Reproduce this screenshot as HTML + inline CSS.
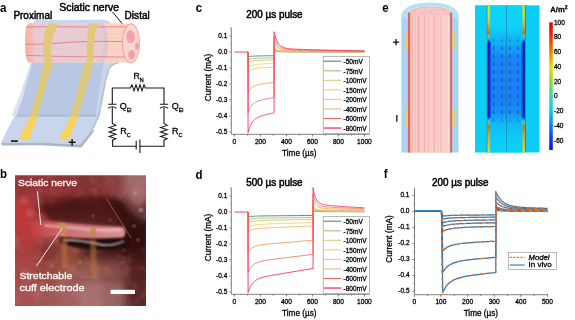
<!DOCTYPE html><html><head><meta charset="utf-8"><style>html,body{margin:0;padding:0;background:#fff;width:575px;height:320px;overflow:hidden}svg{display:block;opacity:0.999}</style></head><body>
<svg width="575" height="320" viewBox="0 0 575 320" font-family='"Liberation Sans", sans-serif'>
<style>text{stroke:#000;stroke-width:0.28px}</style>
<rect width="575" height="320" fill="#fff"/>
<defs><filter id="bl1" x="-30%" y="-30%" width="160%" height="160%"><feGaussianBlur stdDeviation="4"/></filter><filter id="bl2" x="-30%" y="-30%" width="160%" height="160%"><feGaussianBlur stdDeviation="2"/></filter><filter id="tex" x="0" y="0" width="100%" height="100%"><feTurbulence type="fractalNoise" baseFrequency="0.09" numOctaves="3" seed="7"/><feColorMatrix type="matrix" values="0 0 0 0 0.55  0 0 0 0 0.3  0 0 0 0 0.3  1.6 0 0 0 -0.75"/></filter><filter id="blg" x="-10%" y="-10%" width="120%" height="120%"><feGaussianBlur stdDeviation="4.5"/></filter><filter id="bl3" x="-30%" y="-30%" width="160%" height="160%"><feGaussianBlur stdDeviation="1"/></filter><clipPath id="photoclip"><rect x="15" y="175.3" width="131" height="130.7"/></clipPath><linearGradient id="cbar" x1="0" y1="0" x2="0" y2="1"><stop offset="0" stop-color="#e00000"/><stop offset="0.115" stop-color="#f03000"/><stop offset="0.23" stop-color="#f08000"/><stop offset="0.35" stop-color="#e8e000"/><stop offset="0.46" stop-color="#90d840"/><stop offset="0.575" stop-color="#40d8b0"/><stop offset="0.69" stop-color="#10c8f0"/><stop offset="0.805" stop-color="#1080f0"/><stop offset="0.92" stop-color="#1038e8"/><stop offset="1" stop-color="#1010d8"/></linearGradient></defs>
<text transform="translate(0,11.6) scale(0.86,1)" font-size="13.4" font-weight="bold" style="stroke-width:0">a</text>
<text transform="translate(0,178) scale(0.86,1)" font-size="13.4" font-weight="bold" style="stroke-width:0">b</text>
<text transform="translate(195.8,12.3) scale(0.86,1)" font-size="13.4" font-weight="bold" style="stroke-width:0">c</text>
<text transform="translate(195.6,178.7) scale(0.86,1)" font-size="13.4" font-weight="bold" style="stroke-width:0">d</text>
<text transform="translate(382.3,11.7) scale(0.86,1)" font-size="13.4" font-weight="bold" style="stroke-width:0">e</text>
<text transform="translate(383.8,178.4) scale(0.86,1)" font-size="13.4" font-weight="bold" style="stroke-width:0">f</text>
<text x="246.3" y="17.8" font-size="10.2" textLength="56.3" lengthAdjust="spacingAndGlyphs" style="stroke-width:0.5px">200 µs pulse</text>
<path d="M247.92,52L248.05,52L248.05,56.88L248.09,56.87L248.16,56.85L248.27,56.83L248.39,56.8L248.54,56.77L248.7,56.74L248.89,56.7L249.08,56.67L249.3,56.63L249.53,56.59L249.77,56.55L250.03,56.51L250.3,56.47L250.58,56.44L250.88,56.4L251.19,56.36L251.51,56.33L251.84,56.3L252.18,56.26L252.53,56.23L252.9,56.2L253.27,56.18L253.66,56.15L254.05,56.13L254.46,56.1L254.87,56.08L255.3,56.06L255.73,56.04L256.17,56.02L256.63,56L257.09,55.99L257.56,55.97L258.04,55.96L258.53,55.94L259.03,55.93L259.53,55.91L260.05,55.9L260.57,55.89L261.1,55.88L261.64,55.87L262.19,55.86L262.74,55.85L263.31,55.84L263.88,55.83L264.46,55.82L265.05,55.81L265.64,55.8L266.24,55.79L266.85,55.78L267.47,55.77L268.1,55.76L268.73,55.75L269.37,55.74L270.02,55.74L270.67,55.73L271.33,55.72L272,55.71L272.68,55.7L273.36,55.69L274.05,55.68L274.05,50.77L274.08,50.78L274.17,50.8L274.3,50.84L274.46,50.88L274.66,50.93L274.9,50.98L275.18,51.04L275.48,51.1L275.82,51.16L276.19,51.22L276.59,51.28L277.02,51.33L277.48,51.39L277.97,51.44L278.49,51.49L279.04,51.53L279.61,51.57L280.21,51.6L280.84,51.63L281.5,51.66L282.19,51.69L282.9,51.71L283.63,51.73L284.4,51.74L285.18,51.76L286,51.77L286.84,51.78L287.7,51.79L288.59,51.8L289.51,51.8L290.45,51.81L291.41,51.81L292.4,51.82L293.42,51.82L294.45,51.82L295.51,51.83L296.6,51.83L297.71,51.83L298.84,51.84L300,51.84L301.18,51.84L302.38,51.84L303.6,51.85L304.85,51.85L306.12,51.85L307.42,51.85L308.74,51.86L310.07,51.86L311.44,51.86L312.82,51.86L314.23,51.87L315.66,51.87L317.11,51.87L318.58,51.87L320.08,51.88L321.59,51.88L323.13,51.88L324.69,51.88L326.28,51.89L327.88,51.89L329.51,51.89L331.15,51.89L332.82,51.9L334.51,51.9L336.22,51.9L337.96,51.9L339.71,51.9L341.48,51.91L343.28,51.91L345.1,51.91L346.93,51.91L348.79,51.91L350.67,51.92L352.57,51.92L354.49,51.92L356.43,51.92L358.39,51.92L360.37,51.93L362.38,51.93L364.4,51.93" fill="none" stroke="#3f7f55" stroke-width="0.9" stroke-linejoin="round"/>
<path d="M247.92,52L248.05,52L248.05,59.64L248.09,59.63L248.16,59.6L248.27,59.56L248.39,59.52L248.54,59.47L248.7,59.42L248.89,59.36L249.08,59.3L249.3,59.24L249.53,59.18L249.77,59.12L250.03,59.06L250.3,59L250.58,58.94L250.88,58.89L251.19,58.83L251.51,58.78L251.84,58.72L252.18,58.67L252.53,58.63L252.9,58.58L253.27,58.54L253.66,58.5L254.05,58.46L254.46,58.42L254.87,58.39L255.3,58.35L255.73,58.32L256.17,58.29L256.63,58.27L257.09,58.24L257.56,58.21L258.04,58.19L258.53,58.17L259.03,58.15L259.53,58.13L260.05,58.11L260.57,58.09L261.1,58.07L261.64,58.05L262.19,58.04L262.74,58.02L263.31,58.01L263.88,57.99L264.46,57.98L265.05,57.96L265.64,57.95L266.24,57.93L266.85,57.92L267.47,57.9L268.1,57.89L268.73,57.88L269.37,57.86L270.02,57.85L270.67,57.83L271.33,57.82L272,57.8L272.68,57.79L273.36,57.78L274.05,57.76L274.05,50.07L274.08,50.09L274.17,50.12L274.3,50.18L274.46,50.24L274.66,50.32L274.9,50.4L275.18,50.49L275.48,50.59L275.82,50.68L276.19,50.78L276.59,50.87L277.02,50.96L277.48,51.04L277.97,51.12L278.49,51.2L279.04,51.26L279.61,51.32L280.21,51.38L280.84,51.43L281.5,51.47L282.19,51.51L282.9,51.54L283.63,51.57L284.4,51.6L285.18,51.62L286,51.64L286.84,51.65L287.7,51.67L288.59,51.68L289.51,51.69L290.45,51.7L291.41,51.71L292.4,51.71L293.42,51.72L294.45,51.73L295.51,51.73L296.6,51.74L297.71,51.74L298.84,51.74L300,51.75L301.18,51.75L302.38,51.76L303.6,51.76L304.85,51.76L306.12,51.77L307.42,51.77L308.74,51.78L310.07,51.78L311.44,51.78L312.82,51.79L314.23,51.79L315.66,51.8L317.11,51.8L318.58,51.8L320.08,51.81L321.59,51.81L323.13,51.81L324.69,51.82L326.28,51.82L327.88,51.83L329.51,51.83L331.15,51.83L332.82,51.84L334.51,51.84L336.22,51.84L337.96,51.85L339.71,51.85L341.48,51.85L343.28,51.86L345.1,51.86L346.93,51.86L348.79,51.87L350.67,51.87L352.57,51.87L354.49,51.88L356.43,51.88L358.39,51.88L360.37,51.88L362.38,51.89L364.4,51.89" fill="none" stroke="#9cb888" stroke-width="0.9" stroke-linejoin="round"/>
<path d="M247.92,52L248.05,52L248.05,62.4L248.09,62.38L248.16,62.34L248.27,62.29L248.39,62.23L248.54,62.17L248.7,62.1L248.89,62.02L249.08,61.94L249.3,61.86L249.53,61.78L249.77,61.69L250.03,61.61L250.3,61.53L250.58,61.45L250.88,61.37L251.19,61.3L251.51,61.22L251.84,61.15L252.18,61.08L252.53,61.02L252.9,60.96L253.27,60.9L253.66,60.84L254.05,60.79L254.46,60.74L254.87,60.69L255.3,60.65L255.73,60.61L256.17,60.57L256.63,60.53L257.09,60.49L257.56,60.46L258.04,60.43L258.53,60.4L259.03,60.37L259.53,60.34L260.05,60.31L260.57,60.29L261.1,60.26L261.64,60.24L262.19,60.22L262.74,60.2L263.31,60.18L263.88,60.15L264.46,60.13L265.05,60.11L265.64,60.09L266.24,60.07L266.85,60.05L267.47,60.04L268.1,60.02L268.73,60L269.37,59.98L270.02,59.96L270.67,59.94L271.33,59.92L272,59.9L272.68,59.88L273.36,59.86L274.05,59.84L274.05,49.38L274.08,49.4L274.17,49.45L274.3,49.52L274.46,49.61L274.66,49.71L274.9,49.83L275.18,49.95L275.48,50.08L275.82,50.21L276.19,50.33L276.59,50.46L277.02,50.58L277.48,50.7L277.97,50.8L278.49,50.9L279.04,51L279.61,51.08L280.21,51.16L280.84,51.22L281.5,51.28L282.19,51.33L282.9,51.38L283.63,51.42L284.4,51.45L285.18,51.48L286,51.51L286.84,51.53L287.7,51.55L288.59,51.56L289.51,51.58L290.45,51.59L291.41,51.6L292.4,51.61L293.42,51.62L294.45,51.63L295.51,51.63L296.6,51.64L297.71,51.65L298.84,51.65L300,51.66L301.18,51.66L302.38,51.67L303.6,51.67L304.85,51.68L306.12,51.69L307.42,51.69L308.74,51.7L310.07,51.7L311.44,51.71L312.82,51.71L314.23,51.72L315.66,51.72L317.11,51.73L318.58,51.73L320.08,51.74L321.59,51.74L323.13,51.75L324.69,51.75L326.28,51.76L327.88,51.76L329.51,51.77L331.15,51.77L332.82,51.78L334.51,51.78L336.22,51.79L337.96,51.79L339.71,51.8L341.48,51.8L343.28,51.8L345.1,51.81L346.93,51.81L348.79,51.82L350.67,51.82L352.57,51.83L354.49,51.83L356.43,51.83L358.39,51.84L360.37,51.84L362.38,51.85L364.4,51.85" fill="none" stroke="#c9c662" stroke-width="0.9" stroke-linejoin="round"/>
<path d="M247.92,52L248.05,52L248.05,67.07L248.09,67.04L248.16,66.99L248.27,66.92L248.39,66.83L248.54,66.73L248.7,66.63L248.89,66.52L249.08,66.41L249.3,66.29L249.53,66.17L249.77,66.05L250.03,65.93L250.3,65.81L250.58,65.69L250.88,65.58L251.19,65.47L251.51,65.36L251.84,65.26L252.18,65.16L252.53,65.07L252.9,64.98L253.27,64.89L253.66,64.81L254.05,64.74L254.46,64.66L254.87,64.59L255.3,64.53L255.73,64.47L256.17,64.41L256.63,64.36L257.09,64.3L257.56,64.26L258.04,64.21L258.53,64.17L259.03,64.12L259.53,64.08L260.05,64.05L260.57,64.01L261.1,63.97L261.64,63.94L262.19,63.91L262.74,63.88L263.31,63.85L263.88,63.82L264.46,63.79L265.05,63.76L265.64,63.73L266.24,63.7L266.85,63.67L267.47,63.64L268.1,63.62L268.73,63.59L269.37,63.56L270.02,63.53L270.67,63.5L271.33,63.48L272,63.45L272.68,63.42L273.36,63.39L274.05,63.36L274.05,48.2L274.08,48.23L274.17,48.3L274.3,48.4L274.46,48.53L274.66,48.68L274.9,48.85L275.18,49.03L275.48,49.21L275.82,49.4L276.19,49.59L276.59,49.77L277.02,49.94L277.48,50.11L277.97,50.27L278.49,50.41L279.04,50.55L279.61,50.67L280.21,50.78L280.84,50.87L281.5,50.96L282.19,51.03L282.9,51.1L283.63,51.16L284.4,51.21L285.18,51.25L286,51.29L286.84,51.32L287.7,51.34L288.59,51.37L289.51,51.39L290.45,51.41L291.41,51.42L292.4,51.43L293.42,51.45L294.45,51.46L295.51,51.47L296.6,51.48L297.71,51.49L298.84,51.5L300,51.5L301.18,51.51L302.38,51.52L303.6,51.53L304.85,51.54L306.12,51.54L307.42,51.55L308.74,51.56L310.07,51.57L311.44,51.57L312.82,51.58L314.23,51.59L315.66,51.6L317.11,51.6L318.58,51.61L320.08,51.62L321.59,51.63L323.13,51.63L324.69,51.64L326.28,51.65L327.88,51.66L329.51,51.66L331.15,51.67L332.82,51.68L334.51,51.68L336.22,51.69L337.96,51.7L339.71,51.7L341.48,51.71L343.28,51.72L345.1,51.72L346.93,51.73L348.79,51.74L350.67,51.74L352.57,51.75L354.49,51.75L356.43,51.76L358.39,51.77L360.37,51.77L362.38,51.78L364.4,51.78" fill="none" stroke="#f2cf6a" stroke-width="0.9" stroke-linejoin="round"/>
<path d="M247.92,52L248.05,52L248.05,71.95L248.09,71.91L248.16,71.84L248.27,71.75L248.39,71.63L248.54,71.51L248.7,71.37L248.89,71.22L249.08,71.07L249.3,70.92L249.53,70.76L249.77,70.6L250.03,70.44L250.3,70.28L250.58,70.13L250.88,69.98L251.19,69.83L251.51,69.69L251.84,69.56L252.18,69.43L252.53,69.3L252.9,69.18L253.27,69.07L253.66,68.96L254.05,68.86L254.46,68.77L254.87,68.67L255.3,68.59L255.73,68.51L256.17,68.43L256.63,68.36L257.09,68.29L257.56,68.23L258.04,68.16L258.53,68.11L259.03,68.05L259.53,68L260.05,67.95L260.57,67.9L261.1,67.85L261.64,67.81L262.19,67.77L262.74,67.72L263.31,67.68L263.88,67.64L264.46,67.6L265.05,67.56L265.64,67.53L266.24,67.49L266.85,67.45L267.47,67.41L268.1,67.38L268.73,67.34L269.37,67.3L270.02,67.27L270.67,67.23L271.33,67.19L272,67.16L272.68,67.12L273.36,67.08L274.05,67.04L274.05,46.97L274.08,47.01L274.17,47.1L274.3,47.24L274.46,47.41L274.66,47.61L274.9,47.83L275.18,48.07L275.48,48.31L275.82,48.56L276.19,48.8L276.59,49.05L277.02,49.28L277.48,49.5L277.97,49.71L278.49,49.9L279.04,50.07L279.61,50.23L280.21,50.38L280.84,50.51L281.5,50.62L282.19,50.72L282.9,50.81L283.63,50.88L284.4,50.95L285.18,51.01L286,51.06L286.84,51.1L287.7,51.13L288.59,51.16L289.51,51.19L290.45,51.21L291.41,51.23L292.4,51.25L293.42,51.27L294.45,51.28L295.51,51.3L296.6,51.31L297.71,51.32L298.84,51.33L300,51.34L301.18,51.35L302.38,51.36L303.6,51.38L304.85,51.39L306.12,51.4L307.42,51.41L308.74,51.42L310.07,51.43L311.44,51.44L312.82,51.45L314.23,51.46L315.66,51.47L317.11,51.48L318.58,51.49L320.08,51.5L321.59,51.51L323.13,51.51L324.69,51.52L326.28,51.53L327.88,51.54L329.51,51.55L331.15,51.56L332.82,51.57L334.51,51.58L336.22,51.59L337.96,51.6L339.71,51.61L341.48,51.62L343.28,51.63L345.1,51.63L346.93,51.64L348.79,51.65L350.67,51.66L352.57,51.67L354.49,51.68L356.43,51.68L358.39,51.69L360.37,51.7L362.38,51.71L364.4,51.71" fill="none" stroke="#f3b852" stroke-width="0.9" stroke-linejoin="round"/>
<path d="M247.92,52L248.05,52L248.05,92.32L248.09,92.25L248.16,92.11L248.27,91.91L248.39,91.69L248.54,91.43L248.7,91.15L248.89,90.86L249.08,90.55L249.3,90.23L249.53,89.91L249.77,89.59L250.03,89.27L250.3,88.96L250.58,88.65L250.88,88.34L251.19,88.05L251.51,87.76L251.84,87.49L252.18,87.22L252.53,86.97L252.9,86.73L253.27,86.5L253.66,86.29L254.05,86.08L254.46,85.89L254.87,85.7L255.3,85.53L255.73,85.37L256.17,85.21L256.63,85.07L257.09,84.93L257.56,84.8L258.04,84.67L258.53,84.56L259.03,84.44L259.53,84.34L260.05,84.24L260.57,84.14L261.1,84.05L261.64,83.95L262.19,83.87L262.74,83.78L263.31,83.7L263.88,83.62L264.46,83.54L265.05,83.46L265.64,83.38L266.24,83.31L266.85,83.23L267.47,83.16L268.1,83.08L268.73,83.01L269.37,82.93L270.02,82.86L270.67,82.79L271.33,82.71L272,82.64L272.68,82.56L273.36,82.49L274.05,82.41L274.05,41.84L274.08,41.92L274.17,42.1L274.3,42.38L274.46,42.72L274.66,43.13L274.9,43.57L275.18,44.05L275.48,44.54L275.82,45.04L276.19,45.54L276.59,46.03L277.02,46.5L277.48,46.94L277.97,47.36L278.49,47.75L279.04,48.11L279.61,48.43L280.21,48.72L280.84,48.98L281.5,49.21L282.19,49.42L282.9,49.59L283.63,49.75L284.4,49.88L285.18,49.99L286,50.09L286.84,50.17L287.7,50.25L288.59,50.31L289.51,50.36L290.45,50.41L291.41,50.45L292.4,50.49L293.42,50.52L294.45,50.55L295.51,50.58L296.6,50.6L297.71,50.63L298.84,50.65L300,50.67L301.18,50.69L302.38,50.72L303.6,50.74L304.85,50.76L306.12,50.78L307.42,50.8L308.74,50.82L310.07,50.84L311.44,50.86L312.82,50.88L314.23,50.9L315.66,50.92L317.11,50.94L318.58,50.96L320.08,50.98L321.59,51L323.13,51.02L324.69,51.04L326.28,51.06L327.88,51.08L329.51,51.1L331.15,51.12L332.82,51.13L334.51,51.15L336.22,51.17L337.96,51.19L339.71,51.21L341.48,51.22L343.28,51.24L345.1,51.26L346.93,51.28L348.79,51.29L350.67,51.31L352.57,51.33L354.49,51.34L356.43,51.36L358.39,51.38L360.37,51.39L362.38,51.41L364.4,51.42" fill="none" stroke="#f49848" stroke-width="0.9" stroke-linejoin="round"/>
<path d="M247.92,52L248.05,52L248.05,112.48L248.09,112.37L248.16,112.16L248.27,111.87L248.39,111.53L248.54,111.15L248.7,110.73L248.89,110.28L249.08,109.82L249.3,109.35L249.53,108.87L249.77,108.39L250.03,107.91L250.3,107.43L250.58,106.97L250.88,106.51L251.19,106.07L251.51,105.64L251.84,105.23L252.18,104.84L252.53,104.46L252.9,104.1L253.27,103.76L253.66,103.43L254.05,103.12L254.46,102.83L254.87,102.56L255.3,102.3L255.73,102.05L256.17,101.82L256.63,101.6L257.09,101.39L257.56,101.2L258.04,101.01L258.53,100.83L259.03,100.67L259.53,100.51L260.05,100.35L260.57,100.21L261.1,100.07L261.64,99.93L262.19,99.8L262.74,99.67L263.31,99.55L263.88,99.43L264.46,99.31L265.05,99.19L265.64,99.08L266.24,98.96L266.85,98.85L267.47,98.74L268.1,98.62L268.73,98.51L269.37,98.4L270.02,98.29L270.67,98.18L271.33,98.07L272,97.95L272.68,97.84L273.36,97.73L274.05,97.61L274.05,36.76L274.08,36.87L274.17,37.16L274.3,37.57L274.46,38.09L274.66,38.69L274.9,39.36L275.18,40.07L275.48,40.81L275.82,41.56L276.19,42.31L276.59,43.04L277.02,43.75L277.48,44.42L277.97,45.04L278.49,45.63L279.04,46.16L279.61,46.65L280.21,47.09L280.84,47.48L281.5,47.82L282.19,48.12L282.9,48.39L283.63,48.62L284.4,48.82L285.18,48.99L286,49.14L286.84,49.26L287.7,49.37L288.59,49.46L289.51,49.54L290.45,49.61L291.41,49.68L292.4,49.73L293.42,49.78L294.45,49.82L295.51,49.87L296.6,49.9L297.71,49.94L298.84,49.98L300,50.01L301.18,50.04L302.38,50.07L303.6,50.11L304.85,50.14L306.12,50.17L307.42,50.2L308.74,50.23L310.07,50.26L311.44,50.29L312.82,50.32L314.23,50.35L315.66,50.38L317.11,50.41L318.58,50.44L320.08,50.47L321.59,50.5L323.13,50.53L324.69,50.56L326.28,50.59L327.88,50.62L329.51,50.64L331.15,50.67L332.82,50.7L334.51,50.73L336.22,50.76L337.96,50.78L339.71,50.81L341.48,50.84L343.28,50.86L345.1,50.89L346.93,50.92L348.79,50.94L350.67,50.97L352.57,50.99L354.49,51.02L356.43,51.04L358.39,51.06L360.37,51.09L362.38,51.11L364.4,51.13" fill="none" stroke="#f27468" stroke-width="0.9" stroke-linejoin="round"/>
<path d="M234.4,52L248.05,52L248.05,132.64L248.09,132.5L248.16,132.21L248.27,131.83L248.39,131.37L248.54,130.86L248.7,130.3L248.89,129.71L249.08,129.1L249.3,128.47L249.53,127.83L249.77,127.18L250.03,126.54L250.3,125.91L250.58,125.29L250.88,124.68L251.19,124.09L251.51,123.52L251.84,122.98L252.18,122.45L252.53,121.95L252.9,121.47L253.27,121.01L253.66,120.57L254.05,120.16L254.46,119.77L254.87,119.41L255.3,119.06L255.73,118.73L256.17,118.42L256.63,118.13L257.09,117.86L257.56,117.59L258.04,117.35L258.53,117.11L259.03,116.89L259.53,116.68L260.05,116.47L260.57,116.28L261.1,116.09L261.64,115.91L262.19,115.73L262.74,115.56L263.31,115.4L263.88,115.24L264.46,115.08L265.05,114.92L265.64,114.77L266.24,114.62L266.85,114.46L267.47,114.31L268.1,114.17L268.73,114.02L269.37,113.87L270.02,113.72L270.67,113.57L271.33,113.42L272,113.27L272.68,113.12L273.36,112.97L274.05,112.82L274.05,31.68L274.08,31.83L274.17,32.21L274.3,32.76L274.46,33.45L274.66,34.25L274.9,35.14L275.18,36.09L275.48,37.08L275.82,38.08L276.19,39.08L276.59,40.06L277.02,40.99L277.48,41.89L277.97,42.73L278.49,43.5L279.04,44.22L279.61,44.86L280.21,45.45L280.84,45.97L281.5,46.43L282.19,46.83L282.9,47.19L283.63,47.49L284.4,47.76L285.18,47.99L286,48.18L286.84,48.35L287.7,48.49L288.59,48.62L289.51,48.73L290.45,48.82L291.41,48.9L292.4,48.97L293.42,49.04L294.45,49.1L295.51,49.15L296.6,49.21L297.71,49.25L298.84,49.3L300,49.35L301.18,49.39L302.38,49.43L303.6,49.47L304.85,49.52L306.12,49.56L307.42,49.6L308.74,49.64L310.07,49.68L311.44,49.72L312.82,49.76L314.23,49.8L315.66,49.84L317.11,49.88L318.58,49.92L320.08,49.96L321.59,50L323.13,50.04L324.69,50.08L326.28,50.12L327.88,50.15L329.51,50.19L331.15,50.23L332.82,50.27L334.51,50.3L336.22,50.34L337.96,50.38L339.71,50.41L341.48,50.45L343.28,50.49L345.1,50.52L346.93,50.55L348.79,50.59L350.67,50.62L352.57,50.66L354.49,50.69L356.43,50.72L358.39,50.75L360.37,50.78L362.38,50.81L364.4,50.84" fill="none" stroke="#f2305a" stroke-width="0.9" stroke-linejoin="round"/>
<line x1="231.3" y1="27.8" x2="231.3" y2="134.3" stroke="#6a6a6a" stroke-width="0.9"/>
<line x1="229.1" y1="36" x2="231.3" y2="36" stroke="#8a8a8a" stroke-width="0.9"/>
<text x="227.3" y="38" font-size="6.5" text-anchor="end" stroke="#000" stroke-width="0.25">0.1</text>
<line x1="229.1" y1="52" x2="231.3" y2="52" stroke="#8a8a8a" stroke-width="0.9"/>
<text x="227.3" y="54" font-size="6.5" text-anchor="end" stroke="#000" stroke-width="0.25">0.0</text>
<line x1="229.1" y1="68" x2="231.3" y2="68" stroke="#8a8a8a" stroke-width="0.9"/>
<text x="227.3" y="70" font-size="6.5" text-anchor="end" stroke="#000" stroke-width="0.25">-0.1</text>
<line x1="229.1" y1="84" x2="231.3" y2="84" stroke="#8a8a8a" stroke-width="0.9"/>
<text x="227.3" y="86" font-size="6.5" text-anchor="end" stroke="#000" stroke-width="0.25">-0.2</text>
<line x1="229.1" y1="100" x2="231.3" y2="100" stroke="#8a8a8a" stroke-width="0.9"/>
<text x="227.3" y="102" font-size="6.5" text-anchor="end" stroke="#000" stroke-width="0.25">-0.3</text>
<line x1="229.1" y1="116" x2="231.3" y2="116" stroke="#8a8a8a" stroke-width="0.9"/>
<text x="227.3" y="118" font-size="6.5" text-anchor="end" stroke="#000" stroke-width="0.25">-0.4</text>
<line x1="229.1" y1="132" x2="231.3" y2="132" stroke="#8a8a8a" stroke-width="0.9"/>
<text x="227.3" y="134" font-size="6.5" text-anchor="end" stroke="#000" stroke-width="0.25">-0.5</text>
<line x1="230" y1="28" x2="231.3" y2="28" stroke="#8a8a8a" stroke-width="0.7"/>
<line x1="230" y1="44" x2="231.3" y2="44" stroke="#8a8a8a" stroke-width="0.7"/>
<line x1="230" y1="60" x2="231.3" y2="60" stroke="#8a8a8a" stroke-width="0.7"/>
<line x1="230" y1="76" x2="231.3" y2="76" stroke="#8a8a8a" stroke-width="0.7"/>
<line x1="230" y1="92" x2="231.3" y2="92" stroke="#8a8a8a" stroke-width="0.7"/>
<line x1="230" y1="108" x2="231.3" y2="108" stroke="#8a8a8a" stroke-width="0.7"/>
<line x1="230" y1="124" x2="231.3" y2="124" stroke="#8a8a8a" stroke-width="0.7"/>
<line x1="231.3" y1="134.3" x2="369.6" y2="134.3" stroke="#9a9a9a" stroke-width="1.2"/>
<line x1="234.4" y1="134.3" x2="234.4" y2="136.5" stroke="#555" stroke-width="0.8"/>
<text x="234.4" y="143.8" font-size="6.6" text-anchor="middle" stroke="#000" stroke-width="0.25">0</text>
<line x1="260.4" y1="134.3" x2="260.4" y2="136.5" stroke="#555" stroke-width="0.8"/>
<text x="260.4" y="143.8" font-size="6.6" text-anchor="middle" stroke="#000" stroke-width="0.25">200</text>
<line x1="286.4" y1="134.3" x2="286.4" y2="136.5" stroke="#555" stroke-width="0.8"/>
<text x="286.4" y="143.8" font-size="6.6" text-anchor="middle" stroke="#000" stroke-width="0.25">400</text>
<line x1="312.4" y1="134.3" x2="312.4" y2="136.5" stroke="#555" stroke-width="0.8"/>
<text x="312.4" y="143.8" font-size="6.6" text-anchor="middle" stroke="#000" stroke-width="0.25">600</text>
<line x1="338.4" y1="134.3" x2="338.4" y2="136.5" stroke="#555" stroke-width="0.8"/>
<text x="338.4" y="143.8" font-size="6.6" text-anchor="middle" stroke="#000" stroke-width="0.25">800</text>
<line x1="364.4" y1="134.3" x2="364.4" y2="136.5" stroke="#555" stroke-width="0.8"/>
<text x="364.4" y="143.8" font-size="6.6" text-anchor="middle" stroke="#000" stroke-width="0.25">1000</text>
<line x1="247.4" y1="134.3" x2="247.4" y2="135.7" stroke="#555" stroke-width="0.7"/>
<line x1="273.4" y1="134.3" x2="273.4" y2="135.7" stroke="#555" stroke-width="0.7"/>
<line x1="299.4" y1="134.3" x2="299.4" y2="135.7" stroke="#555" stroke-width="0.7"/>
<line x1="325.4" y1="134.3" x2="325.4" y2="135.7" stroke="#555" stroke-width="0.7"/>
<line x1="351.4" y1="134.3" x2="351.4" y2="135.7" stroke="#555" stroke-width="0.7"/>
<rect x="323.2" y="56.3" width="46.4" height="77.3" fill="#fff" stroke="#8a8a8a" stroke-width="0.6"/>
<line x1="323.6" y1="61.2" x2="341.4" y2="61.2" stroke="#3f7f55" stroke-width="1.0"/>
<text x="343.5" y="64" font-size="6.6">-50mV</text>
<line x1="323.6" y1="70.75" x2="341.4" y2="70.75" stroke="#b9cca2" stroke-width="1.5"/>
<text x="343.5" y="73.55" font-size="6.6">-75mV</text>
<line x1="323.6" y1="80.3" x2="341.4" y2="80.3" stroke="#cfcf78" stroke-width="1.0"/>
<text x="343.5" y="83.1" font-size="6.6">-100mV</text>
<line x1="323.6" y1="89.85" x2="341.4" y2="89.85" stroke="#f6dc98" stroke-width="1.5"/>
<text x="343.5" y="92.65" font-size="6.6">-150mV</text>
<line x1="323.6" y1="99.4" x2="341.4" y2="99.4" stroke="#f5bf62" stroke-width="1.0"/>
<text x="343.5" y="102.2" font-size="6.6">-200mV</text>
<line x1="323.6" y1="108.95" x2="341.4" y2="108.95" stroke="#f7c3a6" stroke-width="1.5"/>
<text x="343.5" y="111.75" font-size="6.6">-400mV</text>
<line x1="323.6" y1="118.5" x2="341.4" y2="118.5" stroke="#f26a5e" stroke-width="1.0"/>
<text x="343.5" y="121.3" font-size="6.6">-600mV</text>
<line x1="323.6" y1="128.05" x2="341.4" y2="128.05" stroke="#f4507a" stroke-width="1.5"/>
<text x="343.5" y="130.85" font-size="6.6">-800mV</text>
<text x="299.3" y="155.9" font-size="8.2" text-anchor="middle">Time (µs)</text>
<text transform="translate(210.7,77.5) rotate(-90)" font-size="8.2" text-anchor="middle">Current (mA)</text>
<text x="246.3" y="185.6" font-size="10.2" textLength="56.3" lengthAdjust="spacingAndGlyphs" style="stroke-width:0.5px">500 µs pulse</text>
<path d="M247.92,212L248.05,212L248.05,216.88L248.14,216.86L248.33,216.83L248.59,216.78L248.9,216.73L249.27,216.68L249.68,216.62L250.14,216.56L250.64,216.5L251.17,216.45L251.75,216.39L252.36,216.34L253,216.29L253.68,216.25L254.38,216.21L255.12,216.17L255.89,216.13L256.69,216.1L257.52,216.07L258.37,216.05L259.26,216.02L260.17,216L261.1,215.98L262.07,215.96L263.05,215.95L264.07,215.93L265.1,215.92L266.17,215.9L267.25,215.89L268.36,215.87L269.49,215.86L270.65,215.85L271.82,215.83L273.02,215.82L274.25,215.81L275.49,215.8L276.75,215.78L278.04,215.77L279.35,215.76L280.68,215.74L282.03,215.73L283.39,215.71L284.78,215.7L286.19,215.69L287.62,215.67L289.07,215.66L290.54,215.64L292.03,215.63L293.53,215.61L295.06,215.6L296.6,215.58L298.17,215.57L299.75,215.55L301.35,215.54L302.97,215.52L304.6,215.5L306.26,215.49L307.93,215.47L309.62,215.45L311.33,215.44L313.05,215.42L313.05,210.53L313.07,210.53L313.12,210.55L313.19,210.58L313.28,210.61L313.4,210.64L313.53,210.69L313.69,210.73L313.86,210.78L314.06,210.83L314.27,210.88L314.49,210.93L314.74,210.98L315,211.03L315.28,211.08L315.57,211.12L315.88,211.17L316.21,211.21L316.55,211.25L316.91,211.28L317.28,211.32L317.67,211.35L318.08,211.38L318.5,211.4L318.93,211.42L319.38,211.45L319.84,211.46L320.32,211.48L320.81,211.5L321.32,211.51L321.84,211.52L322.37,211.53L322.92,211.54L323.48,211.55L324.06,211.56L324.65,211.57L325.25,211.57L325.87,211.58L326.5,211.58L327.14,211.59L327.8,211.59L328.47,211.6L329.15,211.6L329.85,211.61L330.56,211.61L331.28,211.62L332.01,211.62L332.76,211.62L333.52,211.63L334.3,211.63L335.09,211.63L335.89,211.64L336.7,211.64L337.52,211.65L338.36,211.65L339.21,211.65L340.07,211.66L340.95,211.66L341.83,211.67L342.73,211.67L343.65,211.67L344.57,211.68L345.51,211.68L346.45,211.68L347.41,211.69L348.39,211.69L349.37,211.7L350.37,211.7L351.38,211.7L352.4,211.71L353.43,211.71L354.47,211.72L355.53,211.72L356.6,211.72L357.68,211.73L358.77,211.73L359.87,211.73L360.99,211.74L362.11,211.74L363.25,211.75L364.4,211.75" fill="none" stroke="#3f7f55" stroke-width="0.9" stroke-linejoin="round"/>
<path d="M247.92,212L248.05,212L248.05,219.64L248.14,219.61L248.33,219.56L248.59,219.49L248.9,219.41L249.27,219.32L249.68,219.23L250.14,219.14L250.64,219.05L251.17,218.96L251.75,218.87L252.36,218.79L253,218.72L253.68,218.65L254.38,218.58L255.12,218.52L255.89,218.47L256.69,218.42L257.52,218.38L258.37,218.34L259.26,218.3L260.17,218.27L261.1,218.23L262.07,218.21L263.05,218.18L264.07,218.15L265.1,218.13L266.17,218.11L267.25,218.09L268.36,218.06L269.49,218.04L270.65,218.02L271.82,218L273.02,217.98L274.25,217.96L275.49,217.94L276.75,217.92L278.04,217.9L279.35,217.88L280.68,217.86L282.03,217.84L283.39,217.81L284.78,217.79L286.19,217.77L287.62,217.75L289.07,217.73L290.54,217.7L292.03,217.68L293.53,217.66L295.06,217.63L296.6,217.61L298.17,217.58L299.75,217.56L301.35,217.53L302.97,217.51L304.6,217.48L306.26,217.46L307.93,217.43L309.62,217.4L311.33,217.38L313.05,217.35L313.05,209.7L313.07,209.71L313.12,209.73L313.19,209.77L313.28,209.82L313.4,209.88L313.53,209.94L313.69,210.01L313.86,210.09L314.06,210.16L314.27,210.24L314.49,210.32L314.74,210.4L315,210.48L315.28,210.55L315.57,210.63L315.88,210.7L316.21,210.76L316.55,210.82L316.91,210.88L317.28,210.93L317.67,210.98L318.08,211.02L318.5,211.06L318.93,211.1L319.38,211.13L319.84,211.16L320.32,211.19L320.81,211.21L321.32,211.23L321.84,211.25L322.37,211.27L322.92,211.28L323.48,211.3L324.06,211.31L324.65,211.32L325.25,211.33L325.87,211.34L326.5,211.35L327.14,211.36L327.8,211.36L328.47,211.37L329.15,211.38L329.85,211.38L330.56,211.39L331.28,211.4L332.01,211.4L332.76,211.41L333.52,211.42L334.3,211.42L335.09,211.43L335.89,211.43L336.7,211.44L337.52,211.45L338.36,211.45L339.21,211.46L340.07,211.46L340.95,211.47L341.83,211.48L342.73,211.48L343.65,211.49L344.57,211.49L345.51,211.5L346.45,211.51L347.41,211.51L348.39,211.52L349.37,211.52L350.37,211.53L351.38,211.54L352.4,211.54L353.43,211.55L354.47,211.55L355.53,211.56L356.6,211.57L357.68,211.57L358.77,211.58L359.87,211.58L360.99,211.59L362.11,211.6L363.25,211.6L364.4,211.61" fill="none" stroke="#9cb888" stroke-width="0.9" stroke-linejoin="round"/>
<path d="M247.92,212L248.05,212L248.05,222.4L248.14,222.36L248.33,222.29L248.59,222.19L248.9,222.08L249.27,221.96L249.68,221.84L250.14,221.72L250.64,221.59L251.17,221.47L251.75,221.36L252.36,221.25L253,221.14L253.68,221.05L254.38,220.96L255.12,220.88L255.89,220.81L256.69,220.74L257.52,220.68L258.37,220.62L259.26,220.57L260.17,220.53L261.1,220.49L262.07,220.45L263.05,220.41L264.07,220.38L265.1,220.34L266.17,220.31L267.25,220.28L268.36,220.25L269.49,220.22L270.65,220.2L271.82,220.17L273.02,220.14L274.25,220.11L275.49,220.09L276.75,220.06L278.04,220.03L279.35,220L280.68,219.97L282.03,219.94L283.39,219.91L284.78,219.88L286.19,219.85L287.62,219.82L289.07,219.79L290.54,219.76L292.03,219.73L293.53,219.7L295.06,219.67L296.6,219.63L298.17,219.6L299.75,219.57L301.35,219.53L302.97,219.5L304.6,219.46L306.26,219.43L307.93,219.39L309.62,219.36L311.33,219.32L313.05,219.28L313.05,208.86L313.07,208.88L313.12,208.91L313.19,208.97L313.28,209.03L313.4,209.11L313.53,209.2L313.69,209.29L313.86,209.4L314.06,209.5L314.27,209.61L314.49,209.72L314.74,209.82L315,209.93L315.28,210.03L315.57,210.13L315.88,210.22L316.21,210.31L316.55,210.4L316.91,210.47L317.28,210.54L317.67,210.61L318.08,210.67L318.5,210.72L318.93,210.77L319.38,210.82L319.84,210.86L320.32,210.89L320.81,210.93L321.32,210.96L321.84,210.98L322.37,211L322.92,211.02L323.48,211.04L324.06,211.06L324.65,211.07L325.25,211.09L325.87,211.1L326.5,211.11L327.14,211.12L327.8,211.13L328.47,211.14L329.15,211.15L329.85,211.16L330.56,211.17L331.28,211.18L332.01,211.19L332.76,211.2L333.52,211.2L334.3,211.21L335.09,211.22L335.89,211.23L336.7,211.24L337.52,211.25L338.36,211.25L339.21,211.26L340.07,211.27L340.95,211.28L341.83,211.29L342.73,211.29L343.65,211.3L344.57,211.31L345.51,211.32L346.45,211.33L347.41,211.34L348.39,211.34L349.37,211.35L350.37,211.36L351.38,211.37L352.4,211.38L353.43,211.39L354.47,211.39L355.53,211.4L356.6,211.41L357.68,211.42L358.77,211.43L359.87,211.43L360.99,211.44L362.11,211.45L363.25,211.46L364.4,211.47" fill="none" stroke="#c9c662" stroke-width="0.9" stroke-linejoin="round"/>
<path d="M247.92,212L248.05,212L248.05,227.07L248.14,227.01L248.33,226.91L248.59,226.77L248.9,226.61L249.27,226.44L249.68,226.26L250.14,226.08L250.64,225.9L251.17,225.72L251.75,225.56L252.36,225.4L253,225.25L253.68,225.11L254.38,224.98L255.12,224.87L255.89,224.76L256.69,224.67L257.52,224.58L258.37,224.5L259.26,224.42L260.17,224.36L261.1,224.3L262.07,224.24L263.05,224.19L264.07,224.14L265.1,224.09L266.17,224.04L267.25,224L268.36,223.96L269.49,223.92L270.65,223.88L271.82,223.84L273.02,223.8L274.25,223.76L275.49,223.72L276.75,223.68L278.04,223.64L279.35,223.59L280.68,223.55L282.03,223.51L283.39,223.47L284.78,223.42L286.19,223.38L287.62,223.34L289.07,223.29L290.54,223.25L292.03,223.2L293.53,223.15L295.06,223.11L296.6,223.06L298.17,223.01L299.75,222.96L301.35,222.91L302.97,222.86L304.6,222.81L306.26,222.76L307.93,222.71L309.62,222.66L311.33,222.61L313.05,222.55L313.05,207.46L313.07,207.48L313.12,207.53L313.19,207.6L313.28,207.7L313.4,207.81L313.53,207.94L313.69,208.08L313.86,208.23L314.06,208.38L314.27,208.54L314.49,208.69L314.74,208.85L315,209L315.28,209.15L315.57,209.29L315.88,209.43L316.21,209.55L316.55,209.68L316.91,209.79L317.28,209.89L317.67,209.99L318.08,210.07L318.5,210.15L318.93,210.22L319.38,210.29L319.84,210.35L320.32,210.4L320.81,210.44L321.32,210.49L321.84,210.52L322.37,210.56L322.92,210.59L323.48,210.61L324.06,210.64L324.65,210.66L325.25,210.68L325.87,210.7L326.5,210.71L327.14,210.73L327.8,210.75L328.47,210.76L329.15,210.77L329.85,210.79L330.56,210.8L331.28,210.81L332.01,210.82L332.76,210.84L333.52,210.85L334.3,210.86L335.09,210.87L335.89,210.88L336.7,210.9L337.52,210.91L338.36,210.92L339.21,210.93L340.07,210.94L340.95,210.95L341.83,210.97L342.73,210.98L343.65,210.99L344.57,211L345.51,211.01L346.45,211.03L347.41,211.04L348.39,211.05L349.37,211.06L350.37,211.07L351.38,211.09L352.4,211.1L353.43,211.11L354.47,211.12L355.53,211.13L356.6,211.14L357.68,211.16L358.77,211.17L359.87,211.18L360.99,211.19L362.11,211.2L363.25,211.21L364.4,211.23" fill="none" stroke="#f2cf6a" stroke-width="0.9" stroke-linejoin="round"/>
<path d="M247.92,212L248.05,212L248.05,231.95L248.14,231.88L248.33,231.74L248.59,231.55L248.9,231.34L249.27,231.12L249.68,230.88L250.14,230.64L250.64,230.4L251.17,230.17L251.75,229.95L252.36,229.74L253,229.54L253.68,229.36L254.38,229.19L255.12,229.04L255.89,228.9L256.69,228.77L257.52,228.65L258.37,228.55L259.26,228.45L260.17,228.36L261.1,228.28L262.07,228.2L263.05,228.13L264.07,228.07L265.1,228.01L266.17,227.95L267.25,227.89L268.36,227.83L269.49,227.78L270.65,227.72L271.82,227.67L273.02,227.62L274.25,227.56L275.49,227.51L276.75,227.46L278.04,227.4L279.35,227.35L280.68,227.29L282.03,227.24L283.39,227.18L284.78,227.13L286.19,227.07L287.62,227.01L289.07,226.95L290.54,226.89L292.03,226.83L293.53,226.77L295.06,226.71L296.6,226.64L298.17,226.58L299.75,226.51L301.35,226.45L302.97,226.38L304.6,226.32L306.26,226.25L307.93,226.18L309.62,226.11L311.33,226.04L313.05,225.97L313.05,205.98L313.07,206.01L313.12,206.08L313.19,206.18L313.28,206.31L313.4,206.46L313.53,206.63L313.69,206.81L313.86,207L314.06,207.21L314.27,207.41L314.49,207.62L314.74,207.83L315,208.03L315.28,208.22L315.57,208.41L315.88,208.59L316.21,208.76L316.55,208.92L316.91,209.07L317.28,209.21L317.67,209.33L318.08,209.45L318.5,209.55L318.93,209.65L319.38,209.73L319.84,209.81L320.32,209.88L320.81,209.94L321.32,210L321.84,210.04L322.37,210.09L322.92,210.13L323.48,210.16L324.06,210.2L324.65,210.22L325.25,210.25L325.87,210.28L326.5,210.3L327.14,210.32L327.8,210.34L328.47,210.36L329.15,210.38L329.85,210.39L330.56,210.41L331.28,210.43L332.01,210.44L332.76,210.46L333.52,210.47L334.3,210.49L335.09,210.51L335.89,210.52L336.7,210.54L337.52,210.55L338.36,210.57L339.21,210.58L340.07,210.6L340.95,210.62L341.83,210.63L342.73,210.65L343.65,210.66L344.57,210.68L345.51,210.69L346.45,210.71L347.41,210.73L348.39,210.74L349.37,210.76L350.37,210.77L351.38,210.79L352.4,210.81L353.43,210.82L354.47,210.84L355.53,210.85L356.6,210.87L357.68,210.88L358.77,210.9L359.87,210.91L360.99,210.93L362.11,210.94L363.25,210.96L364.4,210.98" fill="none" stroke="#f3b852" stroke-width="0.9" stroke-linejoin="round"/>
<path d="M247.92,212L248.05,212L248.05,252.32L248.14,252.18L248.33,251.89L248.59,251.53L248.9,251.1L249.27,250.64L249.68,250.16L250.14,249.67L250.64,249.19L251.17,248.72L251.75,248.28L252.36,247.85L253,247.46L253.68,247.09L254.38,246.75L255.12,246.44L255.89,246.15L256.69,245.89L257.52,245.66L258.37,245.44L259.26,245.25L260.17,245.07L261.1,244.9L262.07,244.75L263.05,244.61L264.07,244.48L265.1,244.35L266.17,244.23L267.25,244.12L268.36,244L269.49,243.89L270.65,243.78L271.82,243.68L273.02,243.57L274.25,243.46L275.49,243.35L276.75,243.25L278.04,243.14L279.35,243.03L280.68,242.91L282.03,242.8L283.39,242.69L284.78,242.57L286.19,242.46L287.62,242.34L289.07,242.22L290.54,242.1L292.03,241.97L293.53,241.85L295.06,241.72L296.6,241.6L298.17,241.47L299.75,241.34L301.35,241.21L302.97,241.07L304.6,240.94L306.26,240.8L307.93,240.66L309.62,240.52L311.33,240.38L313.05,240.24L313.05,199.84L313.07,199.9L313.12,200.03L313.19,200.23L313.28,200.49L313.4,200.8L313.53,201.14L313.69,201.51L313.86,201.9L314.06,202.31L314.27,202.73L314.49,203.15L314.74,203.56L315,203.97L315.28,204.37L315.57,204.75L315.88,205.11L316.21,205.46L316.55,205.78L316.91,206.08L317.28,206.36L317.67,206.61L318.08,206.84L318.5,207.05L318.93,207.25L319.38,207.42L319.84,207.57L320.32,207.71L320.81,207.84L321.32,207.95L321.84,208.05L322.37,208.14L322.92,208.22L323.48,208.29L324.06,208.35L324.65,208.41L325.25,208.46L325.87,208.51L326.5,208.56L327.14,208.6L327.8,208.64L328.47,208.68L329.15,208.72L329.85,208.75L330.56,208.79L331.28,208.82L332.01,208.85L332.76,208.89L333.52,208.92L334.3,208.95L335.09,208.98L335.89,209.01L336.7,209.04L337.52,209.08L338.36,209.11L339.21,209.14L340.07,209.17L340.95,209.2L341.83,209.23L342.73,209.27L343.65,209.3L344.57,209.33L345.51,209.36L346.45,209.39L347.41,209.43L348.39,209.46L349.37,209.49L350.37,209.52L351.38,209.55L352.4,209.58L353.43,209.62L354.47,209.65L355.53,209.68L356.6,209.71L357.68,209.74L358.77,209.77L359.87,209.81L360.99,209.84L362.11,209.87L363.25,209.9L364.4,209.93" fill="none" stroke="#f49848" stroke-width="0.9" stroke-linejoin="round"/>
<path d="M247.92,212L248.05,212L248.05,272.48L248.14,272.26L248.33,271.84L248.59,271.29L248.9,270.65L249.27,269.96L249.68,269.24L250.14,268.51L250.64,267.79L251.17,267.09L251.75,266.42L252.36,265.78L253,265.18L253.68,264.63L254.38,264.12L255.12,263.65L255.89,263.23L256.69,262.84L257.52,262.49L258.37,262.17L259.26,261.87L260.17,261.6L261.1,261.36L262.07,261.13L263.05,260.92L264.07,260.72L265.1,260.53L266.17,260.35L267.25,260.17L268.36,260L269.49,259.84L270.65,259.68L271.82,259.51L273.02,259.35L274.25,259.19L275.49,259.03L276.75,258.87L278.04,258.7L279.35,258.54L280.68,258.37L282.03,258.2L283.39,258.03L284.78,257.86L286.19,257.68L287.62,257.51L289.07,257.33L290.54,257.15L292.03,256.96L293.53,256.77L295.06,256.59L296.6,256.39L298.17,256.2L299.75,256.01L301.35,255.81L302.97,255.61L304.6,255.4L306.26,255.2L307.93,254.99L309.62,254.78L311.33,254.57L313.05,254.36L313.05,193.76L313.07,193.84L313.12,194.05L313.19,194.35L313.28,194.74L313.4,195.19L313.53,195.71L313.69,196.26L313.86,196.85L314.06,197.47L314.27,198.09L314.49,198.72L314.74,199.35L315,199.96L315.28,200.55L315.57,201.13L315.88,201.67L316.21,202.18L316.55,202.67L316.91,203.12L317.28,203.53L317.67,203.91L318.08,204.26L318.5,204.58L318.93,204.87L319.38,205.13L319.84,205.36L320.32,205.57L320.81,205.76L321.32,205.92L321.84,206.07L322.37,206.21L322.92,206.32L323.48,206.43L324.06,206.53L324.65,206.62L325.25,206.7L325.87,206.77L326.5,206.84L327.14,206.9L327.8,206.96L328.47,207.02L329.15,207.08L329.85,207.13L330.56,207.18L331.28,207.23L332.01,207.28L332.76,207.33L333.52,207.38L334.3,207.42L335.09,207.47L335.89,207.52L336.7,207.57L337.52,207.61L338.36,207.66L339.21,207.71L340.07,207.76L340.95,207.8L341.83,207.85L342.73,207.9L343.65,207.95L344.57,207.99L345.51,208.04L346.45,208.09L347.41,208.14L348.39,208.19L349.37,208.23L350.37,208.28L351.38,208.33L352.4,208.38L353.43,208.42L354.47,208.47L355.53,208.52L356.6,208.57L357.68,208.61L358.77,208.66L359.87,208.71L360.99,208.75L362.11,208.8L363.25,208.85L364.4,208.89" fill="none" stroke="#f27468" stroke-width="0.9" stroke-linejoin="round"/>
<path d="M234.4,212L248.05,212L248.05,292.64L248.14,292.35L248.33,291.79L248.59,291.05L248.9,290.2L249.27,289.28L249.68,288.32L250.14,287.35L250.64,286.38L251.17,285.45L251.75,284.55L252.36,283.71L253,282.91L253.68,282.18L254.38,281.5L255.12,280.87L255.89,280.3L256.69,279.79L257.52,279.32L258.37,278.89L259.26,278.5L260.17,278.14L261.1,277.81L262.07,277.51L263.05,277.22L264.07,276.96L265.1,276.7L266.17,276.46L267.25,276.23L268.36,276.01L269.49,275.78L270.65,275.57L271.82,275.35L273.02,275.14L274.25,274.92L275.49,274.71L276.75,274.49L278.04,274.27L279.35,274.05L280.68,273.83L282.03,273.6L283.39,273.38L284.78,273.15L286.19,272.91L287.62,272.68L289.07,272.44L290.54,272.19L292.03,271.95L293.53,271.7L295.06,271.45L296.6,271.19L298.17,270.93L299.75,270.67L301.35,270.41L302.97,270.14L304.6,269.87L306.26,269.6L307.93,269.32L309.62,269.05L311.33,268.76L313.05,268.48L313.05,187.68L313.07,187.79L313.12,188.07L313.19,188.47L313.28,188.98L313.4,189.59L313.53,190.27L313.69,191.02L313.86,191.8L314.06,192.62L314.27,193.46L314.49,194.3L314.74,195.13L315,195.95L315.28,196.74L315.57,197.5L315.88,198.23L316.21,198.91L316.55,199.56L316.91,200.16L317.28,200.71L317.67,201.22L318.08,201.69L318.5,202.11L318.93,202.49L319.38,202.84L319.84,203.15L320.32,203.43L320.81,203.68L321.32,203.9L321.84,204.1L322.37,204.27L322.92,204.43L323.48,204.58L324.06,204.7L324.65,204.82L325.25,204.93L325.87,205.03L326.5,205.12L327.14,205.2L327.8,205.28L328.47,205.36L329.15,205.43L329.85,205.5L330.56,205.57L331.28,205.64L332.01,205.71L332.76,205.77L333.52,205.83L334.3,205.9L335.09,205.96L335.89,206.02L336.7,206.09L337.52,206.15L338.36,206.21L339.21,206.28L340.07,206.34L340.95,206.4L341.83,206.47L342.73,206.53L343.65,206.6L344.57,206.66L345.51,206.72L346.45,206.79L347.41,206.85L348.39,206.91L349.37,206.98L350.37,207.04L351.38,207.11L352.4,207.17L353.43,207.23L354.47,207.3L355.53,207.36L356.6,207.42L357.68,207.49L358.77,207.55L359.87,207.61L360.99,207.67L362.11,207.74L363.25,207.8L364.4,207.86" fill="none" stroke="#f2305a" stroke-width="0.9" stroke-linejoin="round"/>
<line x1="231.3" y1="187.8" x2="231.3" y2="294.3" stroke="#6a6a6a" stroke-width="0.9"/>
<line x1="229.1" y1="196" x2="231.3" y2="196" stroke="#8a8a8a" stroke-width="0.9"/>
<text x="227.3" y="198" font-size="6.5" text-anchor="end" stroke="#000" stroke-width="0.25">0.1</text>
<line x1="229.1" y1="212" x2="231.3" y2="212" stroke="#8a8a8a" stroke-width="0.9"/>
<text x="227.3" y="214" font-size="6.5" text-anchor="end" stroke="#000" stroke-width="0.25">0.0</text>
<line x1="229.1" y1="228" x2="231.3" y2="228" stroke="#8a8a8a" stroke-width="0.9"/>
<text x="227.3" y="230" font-size="6.5" text-anchor="end" stroke="#000" stroke-width="0.25">-0.1</text>
<line x1="229.1" y1="244" x2="231.3" y2="244" stroke="#8a8a8a" stroke-width="0.9"/>
<text x="227.3" y="246" font-size="6.5" text-anchor="end" stroke="#000" stroke-width="0.25">-0.2</text>
<line x1="229.1" y1="260" x2="231.3" y2="260" stroke="#8a8a8a" stroke-width="0.9"/>
<text x="227.3" y="262" font-size="6.5" text-anchor="end" stroke="#000" stroke-width="0.25">-0.3</text>
<line x1="229.1" y1="276" x2="231.3" y2="276" stroke="#8a8a8a" stroke-width="0.9"/>
<text x="227.3" y="278" font-size="6.5" text-anchor="end" stroke="#000" stroke-width="0.25">-0.4</text>
<line x1="229.1" y1="292" x2="231.3" y2="292" stroke="#8a8a8a" stroke-width="0.9"/>
<text x="227.3" y="294" font-size="6.5" text-anchor="end" stroke="#000" stroke-width="0.25">-0.5</text>
<line x1="230" y1="188" x2="231.3" y2="188" stroke="#8a8a8a" stroke-width="0.7"/>
<line x1="230" y1="204" x2="231.3" y2="204" stroke="#8a8a8a" stroke-width="0.7"/>
<line x1="230" y1="220" x2="231.3" y2="220" stroke="#8a8a8a" stroke-width="0.7"/>
<line x1="230" y1="236" x2="231.3" y2="236" stroke="#8a8a8a" stroke-width="0.7"/>
<line x1="230" y1="252" x2="231.3" y2="252" stroke="#8a8a8a" stroke-width="0.7"/>
<line x1="230" y1="268" x2="231.3" y2="268" stroke="#8a8a8a" stroke-width="0.7"/>
<line x1="230" y1="284" x2="231.3" y2="284" stroke="#8a8a8a" stroke-width="0.7"/>
<line x1="231.3" y1="294.3" x2="369.6" y2="294.3" stroke="#9a9a9a" stroke-width="1.2"/>
<line x1="234.4" y1="294.3" x2="234.4" y2="296.5" stroke="#555" stroke-width="0.8"/>
<text x="234.4" y="303.8" font-size="6.6" text-anchor="middle" stroke="#000" stroke-width="0.25">0</text>
<line x1="260.4" y1="294.3" x2="260.4" y2="296.5" stroke="#555" stroke-width="0.8"/>
<text x="260.4" y="303.8" font-size="6.6" text-anchor="middle" stroke="#000" stroke-width="0.25">200</text>
<line x1="286.4" y1="294.3" x2="286.4" y2="296.5" stroke="#555" stroke-width="0.8"/>
<text x="286.4" y="303.8" font-size="6.6" text-anchor="middle" stroke="#000" stroke-width="0.25">400</text>
<line x1="312.4" y1="294.3" x2="312.4" y2="296.5" stroke="#555" stroke-width="0.8"/>
<text x="312.4" y="303.8" font-size="6.6" text-anchor="middle" stroke="#000" stroke-width="0.25">600</text>
<line x1="338.4" y1="294.3" x2="338.4" y2="296.5" stroke="#555" stroke-width="0.8"/>
<text x="338.4" y="303.8" font-size="6.6" text-anchor="middle" stroke="#000" stroke-width="0.25">800</text>
<line x1="364.4" y1="294.3" x2="364.4" y2="296.5" stroke="#555" stroke-width="0.8"/>
<text x="364.4" y="303.8" font-size="6.6" text-anchor="middle" stroke="#000" stroke-width="0.25">1000</text>
<line x1="247.4" y1="294.3" x2="247.4" y2="295.7" stroke="#555" stroke-width="0.7"/>
<line x1="273.4" y1="294.3" x2="273.4" y2="295.7" stroke="#555" stroke-width="0.7"/>
<line x1="299.4" y1="294.3" x2="299.4" y2="295.7" stroke="#555" stroke-width="0.7"/>
<line x1="325.4" y1="294.3" x2="325.4" y2="295.7" stroke="#555" stroke-width="0.7"/>
<line x1="351.4" y1="294.3" x2="351.4" y2="295.7" stroke="#555" stroke-width="0.7"/>
<rect x="323.2" y="216.3" width="46.4" height="77.3" fill="#fff" stroke="#8a8a8a" stroke-width="0.6"/>
<line x1="323.6" y1="221.2" x2="341.4" y2="221.2" stroke="#3f7f55" stroke-width="1.0"/>
<text x="343.5" y="224" font-size="6.6">-50mV</text>
<line x1="323.6" y1="230.75" x2="341.4" y2="230.75" stroke="#b9cca2" stroke-width="1.5"/>
<text x="343.5" y="233.55" font-size="6.6">-75mV</text>
<line x1="323.6" y1="240.3" x2="341.4" y2="240.3" stroke="#cfcf78" stroke-width="1.0"/>
<text x="343.5" y="243.1" font-size="6.6">-100mV</text>
<line x1="323.6" y1="249.85" x2="341.4" y2="249.85" stroke="#f6dc98" stroke-width="1.5"/>
<text x="343.5" y="252.65" font-size="6.6">-150mV</text>
<line x1="323.6" y1="259.4" x2="341.4" y2="259.4" stroke="#f5bf62" stroke-width="1.0"/>
<text x="343.5" y="262.2" font-size="6.6">-200mV</text>
<line x1="323.6" y1="268.95" x2="341.4" y2="268.95" stroke="#f7c3a6" stroke-width="1.5"/>
<text x="343.5" y="271.75" font-size="6.6">-400mV</text>
<line x1="323.6" y1="278.5" x2="341.4" y2="278.5" stroke="#f26a5e" stroke-width="1.0"/>
<text x="343.5" y="281.3" font-size="6.6">-600mV</text>
<line x1="323.6" y1="288.05" x2="341.4" y2="288.05" stroke="#f4507a" stroke-width="1.5"/>
<text x="343.5" y="290.85" font-size="6.6">-800mV</text>
<text x="299.3" y="315.9" font-size="8.2" text-anchor="middle">Time (µs)</text>
<text transform="translate(210.7,237.5) rotate(-90)" font-size="8.2" text-anchor="middle">Current (mA)</text>
<text x="432.1" y="185.7" font-size="10.2" textLength="56.3" lengthAdjust="spacingAndGlyphs" style="stroke-width:0.5px">200 µs pulse</text>
<path d="M414.3,211.4L441.46,211.4L442.79,216.07L442.86,216.06L442.99,216.05L443.17,216.02L443.39,216L443.64,215.97L443.93,215.93L444.25,215.9L444.6,215.86L444.97,215.83L445.37,215.79L445.79,215.75L446.24,215.72L446.71,215.68L447.21,215.64L447.72,215.61L448.26,215.57L448.81,215.54L449.39,215.51L450.09,215.48L450.83,215.45L451.59,215.42L452.37,215.39L453.18,215.37L454,215.35L454.85,215.32L455.72,215.3L456.6,215.28L457.51,215.26L458.44,215.25L459.38,215.23L460.35,215.21L461.33,215.2L462.34,215.18L463.36,215.17L464.4,215.16L465.45,215.15L466.53,215.13L467.62,215.12L468.73,215.11L469.86,215.1L471,215.09L472.16,215.08L473.34,215.07L474.54,215.06L475.75,215.05L476.97,215.04L478.22,215.04L479.48,215.03L480.75,215.02L482.04,215.01L483.35,215L484.67,214.99L486.01,214.98L487.36,214.97L488.73,214.97L490.11,214.96L491.51,214.95L492.92,214.94L494.35,214.93L495.79,214.92L495.79,210.27L495.82,210.27L495.9,210.28L496.02,210.3L496.18,210.32L496.38,210.34L496.61,210.37L496.87,210.4L497.16,210.43L497.49,210.46L497.84,210.5L498.23,210.53L498.64,210.57L499.08,210.6L499.55,210.64L500.05,210.68L500.57,210.71L501.12,210.75L501.7,210.78L502.31,210.81L502.94,210.84L503.6,210.87L504.28,210.9L504.98,210.93L505.72,210.95L506.47,210.97L507.25,211L508.06,211.02L508.89,211.03L509.75,211.05L510.62,211.07L511.53,211.08L512.45,211.09L513.4,211.11L514.37,211.12L515.37,211.13L516.39,211.13L517.43,211.14L518.49,211.15L519.58,211.16L520.69,211.16L521.82,211.17L522.97,211.17L524.15,211.18L525.35,211.18L526.57,211.18L527.81,211.19L529.07,211.19L530.36,211.2L531.67,211.2L533,211.2L534.35,211.2L535.72,211.21L537.11,211.21L538.53,211.21L539.96,211.21L541.42,211.22L542.89,211.22L544.39,211.22L545.91,211.22L547.45,211.22" fill="none" stroke="#1a78c8" stroke-width="1.2" stroke-linejoin="round"/>
<path d="M414.3,211.4L441.46,211.4L442.79,219.04L442.86,219.03L442.99,219L443.17,218.97L443.39,218.92L443.64,218.87L443.93,218.82L444.25,218.76L444.6,218.71L444.97,218.64L445.37,218.58L445.79,218.52L446.24,218.46L446.71,218.4L447.21,218.34L447.72,218.28L448.26,218.23L448.81,218.17L449.39,218.12L450.09,218.07L450.83,218.02L451.59,217.98L452.37,217.94L453.18,217.9L454,217.86L454.85,217.82L455.72,217.79L456.6,217.75L457.51,217.72L458.44,217.69L459.38,217.67L460.35,217.64L461.33,217.62L462.34,217.59L463.36,217.57L464.4,217.55L465.45,217.53L466.53,217.51L467.62,217.49L468.73,217.47L469.86,217.46L471,217.44L472.16,217.42L473.34,217.41L474.54,217.39L475.75,217.38L476.97,217.36L478.22,217.35L479.48,217.33L480.75,217.32L482.04,217.31L483.35,217.29L484.67,217.28L486.01,217.26L487.36,217.25L488.73,217.23L490.11,217.22L491.51,217.21L492.92,217.19L494.35,217.18L495.79,217.16L495.79,209.55L495.82,209.55L495.9,209.57L496.02,209.59L496.18,209.63L496.38,209.66L496.61,209.71L496.87,209.76L497.16,209.81L497.49,209.86L497.84,209.92L498.23,209.98L498.64,210.04L499.08,210.1L499.55,210.16L500.05,210.22L500.57,210.28L501.12,210.33L501.7,210.39L502.31,210.44L502.94,210.49L503.6,210.54L504.28,210.58L504.98,210.63L505.72,210.67L506.47,210.7L507.25,210.74L508.06,210.77L508.89,210.8L509.75,210.83L510.62,210.85L511.53,210.88L512.45,210.9L513.4,210.92L514.37,210.94L515.37,210.95L516.39,210.97L517.43,210.98L518.49,210.99L519.58,211L520.69,211.01L521.82,211.02L522.97,211.03L524.15,211.03L525.35,211.04L526.57,211.05L527.81,211.05L529.07,211.06L530.36,211.06L531.67,211.07L533,211.07L534.35,211.08L535.72,211.08L537.11,211.09L538.53,211.09L539.96,211.09L541.42,211.1L542.89,211.1L544.39,211.11L545.91,211.11L547.45,211.11" fill="none" stroke="#1a78c8" stroke-width="1.2" stroke-linejoin="round"/>
<path d="M414.3,211.4L441.46,211.4L442.79,222.65L442.86,222.63L442.99,222.59L443.17,222.54L443.39,222.48L443.64,222.4L443.93,222.32L444.25,222.24L444.6,222.15L444.97,222.07L445.37,221.98L445.79,221.89L446.24,221.8L446.71,221.71L447.21,221.62L447.72,221.53L448.26,221.45L448.81,221.37L449.39,221.3L450.09,221.22L450.83,221.15L451.59,221.09L452.37,221.02L453.18,220.96L454,220.91L454.85,220.85L455.72,220.8L456.6,220.75L457.51,220.71L458.44,220.67L459.38,220.63L460.35,220.59L461.33,220.55L462.34,220.52L463.36,220.48L464.4,220.45L465.45,220.42L466.53,220.4L467.62,220.37L468.73,220.34L469.86,220.32L471,220.29L472.16,220.27L473.34,220.25L474.54,220.22L475.75,220.2L476.97,220.18L478.22,220.16L479.48,220.14L480.75,220.12L482.04,220.09L483.35,220.07L484.67,220.05L486.01,220.03L487.36,220.01L488.73,219.99L490.11,219.97L491.51,219.95L492.92,219.93L494.35,219.9L495.79,219.88L495.79,208.67L495.82,208.68L495.9,208.7L496.02,208.74L496.18,208.79L496.38,208.84L496.61,208.91L496.87,208.98L497.16,209.06L497.49,209.14L497.84,209.22L498.23,209.31L498.64,209.39L499.08,209.48L499.55,209.57L500.05,209.66L500.57,209.74L501.12,209.83L501.7,209.91L502.31,209.99L502.94,210.06L503.6,210.13L504.28,210.2L504.98,210.26L505.72,210.32L506.47,210.38L507.25,210.43L508.06,210.47L508.89,210.52L509.75,210.56L510.62,210.6L511.53,210.63L512.45,210.66L513.4,210.69L514.37,210.72L515.37,210.74L516.39,210.76L517.43,210.78L518.49,210.8L519.58,210.81L520.69,210.83L521.82,210.84L522.97,210.85L524.15,210.86L525.35,210.87L526.57,210.88L527.81,210.89L529.07,210.9L530.36,210.91L531.67,210.91L533,210.92L534.35,210.93L535.72,210.93L537.11,210.94L538.53,210.94L539.96,210.95L541.42,210.96L542.89,210.96L544.39,210.97L545.91,210.97L547.45,210.98" fill="none" stroke="#1a78c8" stroke-width="1.2" stroke-linejoin="round"/>
<path d="M414.3,211.4L441.46,211.4L442.79,226.48L442.86,226.45L442.99,226.4L443.17,226.32L443.39,226.24L443.64,226.14L443.93,226.03L444.25,225.92L444.6,225.81L444.97,225.69L445.37,225.57L445.79,225.45L446.24,225.33L446.71,225.21L447.21,225.09L447.72,224.98L448.26,224.87L448.81,224.76L449.39,224.66L450.09,224.56L450.83,224.47L451.59,224.38L452.37,224.29L453.18,224.21L454,224.13L454.85,224.06L455.72,223.99L456.6,223.93L457.51,223.87L458.44,223.81L459.38,223.76L460.35,223.71L461.33,223.66L462.34,223.61L463.36,223.57L464.4,223.53L465.45,223.49L466.53,223.45L467.62,223.42L468.73,223.38L469.86,223.35L471,223.31L472.16,223.28L473.34,223.25L474.54,223.22L475.75,223.19L476.97,223.16L478.22,223.13L479.48,223.1L480.75,223.08L482.04,223.05L483.35,223.02L484.67,222.99L486.01,222.96L487.36,222.93L488.73,222.91L490.11,222.88L491.51,222.85L492.92,222.82L494.35,222.79L495.79,222.76L495.79,207.74L495.82,207.76L495.9,207.79L496.02,207.84L496.18,207.9L496.38,207.98L496.61,208.06L496.87,208.16L497.16,208.26L497.49,208.37L497.84,208.48L498.23,208.6L498.64,208.71L499.08,208.83L499.55,208.95L500.05,209.07L500.57,209.18L501.12,209.29L501.7,209.4L502.31,209.51L502.94,209.61L503.6,209.7L504.28,209.79L504.98,209.87L505.72,209.95L506.47,210.03L507.25,210.1L508.06,210.16L508.89,210.22L509.75,210.27L510.62,210.32L511.53,210.37L512.45,210.41L513.4,210.45L514.37,210.48L515.37,210.51L516.39,210.54L517.43,210.57L518.49,210.59L519.58,210.61L520.69,210.63L521.82,210.65L522.97,210.67L524.15,210.68L525.35,210.69L526.57,210.71L527.81,210.72L529.07,210.73L530.36,210.74L531.67,210.75L533,210.76L534.35,210.77L535.72,210.77L537.11,210.78L538.53,210.79L539.96,210.8L541.42,210.81L542.89,210.81L544.39,210.82L545.91,210.83L547.45,210.83" fill="none" stroke="#1a78c8" stroke-width="1.2" stroke-linejoin="round"/>
<path d="M414.3,211.4L441.46,211.4L442.79,231.36L442.86,231.33L442.99,231.25L443.17,231.16L443.39,231.04L443.64,230.92L443.93,230.78L444.25,230.63L444.6,230.47L444.97,230.32L445.37,230.16L445.79,230L446.24,229.84L446.71,229.68L447.21,229.53L447.72,229.38L448.26,229.23L448.81,229.09L449.39,228.95L450.09,228.82L450.83,228.7L451.59,228.58L452.37,228.47L453.18,228.36L454,228.26L454.85,228.16L455.72,228.07L456.6,227.99L457.51,227.91L458.44,227.83L459.38,227.76L460.35,227.69L461.33,227.63L462.34,227.57L463.36,227.51L464.4,227.46L465.45,227.41L466.53,227.36L467.62,227.31L468.73,227.26L469.86,227.22L471,227.17L472.16,227.13L473.34,227.09L474.54,227.05L475.75,227.01L476.97,226.97L478.22,226.93L479.48,226.9L480.75,226.86L482.04,226.82L483.35,226.78L484.67,226.75L486.01,226.71L487.36,226.67L488.73,226.63L490.11,226.6L491.51,226.56L492.92,226.52L494.35,226.48L495.79,226.44L495.79,206.56L495.82,206.58L495.9,206.62L496.02,206.68L496.18,206.77L496.38,206.87L496.61,206.98L496.87,207.11L497.16,207.24L497.49,207.39L497.84,207.53L498.23,207.69L498.64,207.84L499.08,208L499.55,208.16L500.05,208.31L500.57,208.46L501.12,208.61L501.7,208.75L502.31,208.89L502.94,209.02L503.6,209.15L504.28,209.27L504.98,209.38L505.72,209.49L506.47,209.58L507.25,209.67L508.06,209.76L508.89,209.84L509.75,209.91L510.62,209.97L511.53,210.04L512.45,210.09L513.4,210.14L514.37,210.19L515.37,210.23L516.39,210.26L517.43,210.3L518.49,210.33L519.58,210.36L520.69,210.38L521.82,210.41L522.97,210.43L524.15,210.45L525.35,210.46L526.57,210.48L527.81,210.5L529.07,210.51L530.36,210.52L531.67,210.54L533,210.55L534.35,210.56L535.72,210.57L537.11,210.58L538.53,210.59L539.96,210.6L541.42,210.61L542.89,210.62L544.39,210.63L545.91,210.64L547.45,210.65" fill="none" stroke="#1a78c8" stroke-width="1.2" stroke-linejoin="round"/>
<path d="M414.3,211.4L441.46,211.4L442.79,250.9L442.86,250.83L442.99,250.68L443.17,250.5L443.39,250.27L443.64,250.02L443.93,249.74L444.25,249.45L444.6,249.14L444.97,248.83L445.37,248.51L445.79,248.2L446.24,247.88L446.71,247.57L447.21,247.27L447.72,246.97L448.26,246.68L448.81,246.4L449.39,246.13L450.09,245.87L450.83,245.63L451.59,245.39L452.37,245.17L453.18,244.96L454,244.76L454.85,244.57L455.72,244.39L456.6,244.23L457.51,244.07L458.44,243.92L459.38,243.78L460.35,243.64L461.33,243.52L462.34,243.4L463.36,243.28L464.4,243.17L465.45,243.07L466.53,242.97L467.62,242.88L468.73,242.79L469.86,242.7L471,242.61L472.16,242.53L473.34,242.45L474.54,242.37L475.75,242.29L476.97,242.21L478.22,242.14L479.48,242.06L480.75,241.99L482.04,241.91L483.35,241.84L484.67,241.76L486.01,241.69L487.36,241.62L488.73,241.54L490.11,241.47L491.51,241.39L492.92,241.32L494.35,241.24L495.79,241.17L495.79,201.82L495.82,201.85L495.9,201.94L496.02,202.07L496.18,202.23L496.38,202.43L496.61,202.66L496.87,202.9L497.16,203.17L497.49,203.46L497.84,203.75L498.23,204.05L498.64,204.36L499.08,204.67L499.55,204.98L500.05,205.29L500.57,205.59L501.12,205.88L501.7,206.16L502.31,206.44L502.94,206.7L503.6,206.95L504.28,207.18L504.98,207.4L505.72,207.61L506.47,207.81L507.25,207.99L508.06,208.15L508.89,208.31L509.75,208.45L510.62,208.58L511.53,208.7L512.45,208.81L513.4,208.91L514.37,209L515.37,209.08L516.39,209.15L517.43,209.22L518.49,209.28L519.58,209.34L520.69,209.39L521.82,209.43L522.97,209.48L524.15,209.51L525.35,209.55L526.57,209.58L527.81,209.61L529.07,209.64L530.36,209.67L531.67,209.69L533,209.72L534.35,209.74L535.72,209.76L537.11,209.78L538.53,209.8L539.96,209.82L541.42,209.84L542.89,209.86L544.39,209.88L545.91,209.9L547.45,209.92" fill="none" stroke="#1a78c8" stroke-width="1.2" stroke-linejoin="round"/>
<path d="M414.3,211.4L441.46,211.4L442.79,272.35L442.86,272.24L442.99,272.02L443.17,271.72L443.39,271.38L443.64,270.98L443.93,270.56L444.25,270.11L444.6,269.64L444.97,269.16L445.37,268.67L445.79,268.18L446.24,267.69L446.71,267.21L447.21,266.74L447.72,266.28L448.26,265.84L448.81,265.4L449.39,264.99L450.09,264.59L450.83,264.21L451.59,263.85L452.37,263.51L453.18,263.18L454,262.88L454.85,262.58L455.72,262.31L456.6,262.05L457.51,261.8L458.44,261.57L459.38,261.36L460.35,261.15L461.33,260.95L462.34,260.77L463.36,260.59L464.4,260.43L465.45,260.27L466.53,260.12L467.62,259.97L468.73,259.83L469.86,259.69L471,259.56L472.16,259.43L473.34,259.31L474.54,259.18L475.75,259.06L476.97,258.94L478.22,258.83L479.48,258.71L480.75,258.6L482.04,258.48L483.35,258.37L484.67,258.25L486.01,258.14L487.36,258.03L488.73,257.91L490.11,257.8L491.51,257.68L492.92,257.57L494.35,257.45L495.79,257.33L495.79,196.61L495.82,196.67L495.9,196.8L496.02,197L496.18,197.26L496.38,197.56L496.61,197.91L496.87,198.29L497.16,198.7L497.49,199.14L497.84,199.6L498.23,200.06L498.64,200.54L499.08,201.02L499.55,201.5L500.05,201.97L500.57,202.43L501.12,202.88L501.7,203.32L502.31,203.74L502.94,204.14L503.6,204.53L504.28,204.89L504.98,205.23L505.72,205.55L506.47,205.85L507.25,206.13L508.06,206.39L508.89,206.63L509.75,206.85L510.62,207.05L511.53,207.23L512.45,207.4L513.4,207.55L514.37,207.69L515.37,207.82L516.39,207.93L517.43,208.04L518.49,208.13L519.58,208.22L520.69,208.3L521.82,208.37L522.97,208.43L524.15,208.49L525.35,208.54L526.57,208.59L527.81,208.64L529.07,208.69L530.36,208.73L531.67,208.77L533,208.8L534.35,208.84L535.72,208.87L537.11,208.9L538.53,208.93L539.96,208.97L541.42,209L542.89,209.02L544.39,209.05L545.91,209.08L547.45,209.11" fill="none" stroke="#1a78c8" stroke-width="1.2" stroke-linejoin="round"/>
<path d="M414.3,211.4L441.46,211.4L442.79,292.52L442.86,292.37L442.99,292.08L443.17,291.69L443.39,291.23L443.64,290.71L443.93,290.14L444.25,289.54L444.6,288.91L444.97,288.27L445.37,287.62L445.79,286.97L446.24,286.33L446.71,285.69L447.21,285.06L447.72,284.45L448.26,283.85L448.81,283.28L449.39,282.73L450.09,282.2L450.83,281.7L451.59,281.21L452.37,280.76L453.18,280.32L454,279.91L454.85,279.53L455.72,279.16L456.6,278.81L457.51,278.49L458.44,278.18L459.38,277.89L460.35,277.62L461.33,277.36L462.34,277.11L463.36,276.88L464.4,276.66L465.45,276.44L466.53,276.24L467.62,276.05L468.73,275.86L469.86,275.68L471,275.5L472.16,275.33L473.34,275.16L474.54,275L475.75,274.84L476.97,274.68L478.22,274.53L479.48,274.37L480.75,274.22L482.04,274.07L483.35,273.91L484.67,273.76L486.01,273.61L487.36,273.46L488.73,273.31L490.11,273.15L491.51,273L492.92,272.85L494.35,272.69L495.79,272.54L495.79,191.72L495.82,191.79L495.9,191.97L496.02,192.24L496.18,192.58L496.38,192.98L496.61,193.44L496.87,193.95L497.16,194.5L497.49,195.08L497.84,195.69L498.23,196.31L498.64,196.95L499.08,197.58L499.55,198.22L500.05,198.85L500.57,199.46L501.12,200.06L501.7,200.65L502.31,201.21L502.94,201.74L503.6,202.25L504.28,202.74L504.98,203.19L505.72,203.62L506.47,204.02L507.25,204.39L508.06,204.73L508.89,205.05L509.75,205.34L510.62,205.61L511.53,205.85L512.45,206.08L513.4,206.28L514.37,206.47L515.37,206.63L516.39,206.79L517.43,206.92L518.49,207.05L519.58,207.16L520.69,207.27L521.82,207.36L522.97,207.45L524.15,207.53L525.35,207.6L526.57,207.67L527.81,207.73L529.07,207.79L530.36,207.84L531.67,207.89L533,207.94L534.35,207.99L535.72,208.03L537.11,208.08L538.53,208.12L539.96,208.16L541.42,208.2L542.89,208.24L544.39,208.28L545.91,208.31L547.45,208.35" fill="none" stroke="#1a78c8" stroke-width="1.2" stroke-linejoin="round"/>
<path d="M440.93,211.4L441.46,211.4L442.26,216.07L442.33,216.06L442.47,216.05L442.67,216.02L442.9,216L443.18,215.97L443.49,215.93L443.83,215.9L444.21,215.86L444.61,215.83L445.04,215.79L445.5,215.75L445.98,215.72L446.49,215.68L447.03,215.64L447.58,215.61L448.16,215.57L448.76,215.54L449.38,215.51L450.09,215.48L450.83,215.45L451.59,215.42L452.37,215.39L453.18,215.37L454,215.35L454.85,215.32L455.72,215.3L456.6,215.28L457.51,215.26L458.44,215.25L459.38,215.23L460.35,215.21L461.33,215.2L462.34,215.18L463.36,215.17L464.4,215.16L465.45,215.15L466.53,215.13L467.62,215.12L468.73,215.11L469.86,215.1L471,215.09L472.16,215.08L473.34,215.07L474.54,215.06L475.75,215.05L476.97,215.04L478.22,215.04L479.48,215.03L480.75,215.02L482.04,215.01L483.35,215L484.67,214.99L486.01,214.98L487.36,214.97L488.73,214.97L490.11,214.96L491.51,214.95L492.92,214.94L494.35,214.93L495.79,214.92L495.79,210.27L495.82,210.27L495.9,210.28L496.02,210.3L496.18,210.32L496.38,210.34L496.61,210.37L496.87,210.4L497.16,210.43L497.49,210.46L497.84,210.5L498.23,210.53L498.64,210.57L499.08,210.6L499.55,210.64L500.05,210.68L500.57,210.71L501.12,210.75L501.7,210.78L502.31,210.81L502.94,210.84L503.6,210.87L504.28,210.9L504.98,210.93L505.72,210.95L506.47,210.97L507.25,211L508.06,211.02L508.89,211.03L509.75,211.05L510.62,211.07L511.53,211.08L512.45,211.09L513.4,211.11L514.37,211.12L515.37,211.13L516.39,211.13L517.43,211.14L518.49,211.15L519.58,211.16L520.69,211.16L521.82,211.17L522.97,211.17L524.15,211.18L525.35,211.18L526.57,211.18L527.81,211.19L529.07,211.19L530.36,211.2L531.67,211.2L533,211.2L534.35,211.2L535.72,211.21L537.11,211.21L538.53,211.21L539.96,211.21L541.42,211.22L542.89,211.22L544.39,211.22L545.91,211.22L547.45,211.22" fill="none" stroke="#ea6f1c" stroke-width="1.2" stroke-dasharray="3.1,4.3" stroke-linejoin="round"/>
<path d="M440.93,211.4L441.46,211.4L442.26,219.04L442.33,219.03L442.47,219L442.67,218.97L442.9,218.92L443.18,218.87L443.49,218.82L443.83,218.76L444.21,218.71L444.61,218.64L445.04,218.58L445.5,218.52L445.98,218.46L446.49,218.4L447.03,218.34L447.58,218.28L448.16,218.23L448.76,218.17L449.38,218.12L450.09,218.07L450.83,218.02L451.59,217.98L452.37,217.94L453.18,217.9L454,217.86L454.85,217.82L455.72,217.79L456.6,217.75L457.51,217.72L458.44,217.69L459.38,217.67L460.35,217.64L461.33,217.62L462.34,217.59L463.36,217.57L464.4,217.55L465.45,217.53L466.53,217.51L467.62,217.49L468.73,217.47L469.86,217.46L471,217.44L472.16,217.42L473.34,217.41L474.54,217.39L475.75,217.38L476.97,217.36L478.22,217.35L479.48,217.33L480.75,217.32L482.04,217.31L483.35,217.29L484.67,217.28L486.01,217.26L487.36,217.25L488.73,217.23L490.11,217.22L491.51,217.21L492.92,217.19L494.35,217.18L495.79,217.16L495.79,209.55L495.82,209.55L495.9,209.57L496.02,209.59L496.18,209.63L496.38,209.66L496.61,209.71L496.87,209.76L497.16,209.81L497.49,209.86L497.84,209.92L498.23,209.98L498.64,210.04L499.08,210.1L499.55,210.16L500.05,210.22L500.57,210.28L501.12,210.33L501.7,210.39L502.31,210.44L502.94,210.49L503.6,210.54L504.28,210.58L504.98,210.63L505.72,210.67L506.47,210.7L507.25,210.74L508.06,210.77L508.89,210.8L509.75,210.83L510.62,210.85L511.53,210.88L512.45,210.9L513.4,210.92L514.37,210.94L515.37,210.95L516.39,210.97L517.43,210.98L518.49,210.99L519.58,211L520.69,211.01L521.82,211.02L522.97,211.03L524.15,211.03L525.35,211.04L526.57,211.05L527.81,211.05L529.07,211.06L530.36,211.06L531.67,211.07L533,211.07L534.35,211.08L535.72,211.08L537.11,211.09L538.53,211.09L539.96,211.09L541.42,211.1L542.89,211.1L544.39,211.11L545.91,211.11L547.45,211.11" fill="none" stroke="#ea6f1c" stroke-width="1.2" stroke-dasharray="3.1,4.3" stroke-linejoin="round"/>
<path d="M440.93,211.4L441.46,211.4L442.26,222.65L442.33,222.63L442.47,222.59L442.67,222.54L442.9,222.48L443.18,222.4L443.49,222.32L443.83,222.24L444.21,222.15L444.61,222.07L445.04,221.98L445.5,221.89L445.98,221.8L446.49,221.71L447.03,221.62L447.58,221.53L448.16,221.45L448.76,221.37L449.38,221.3L450.09,221.22L450.83,221.15L451.59,221.09L452.37,221.02L453.18,220.96L454,220.91L454.85,220.85L455.72,220.8L456.6,220.75L457.51,220.71L458.44,220.67L459.38,220.63L460.35,220.59L461.33,220.55L462.34,220.52L463.36,220.48L464.4,220.45L465.45,220.42L466.53,220.4L467.62,220.37L468.73,220.34L469.86,220.32L471,220.29L472.16,220.27L473.34,220.25L474.54,220.22L475.75,220.2L476.97,220.18L478.22,220.16L479.48,220.14L480.75,220.12L482.04,220.09L483.35,220.07L484.67,220.05L486.01,220.03L487.36,220.01L488.73,219.99L490.11,219.97L491.51,219.95L492.92,219.93L494.35,219.9L495.79,219.88L495.79,208.67L495.82,208.68L495.9,208.7L496.02,208.74L496.18,208.79L496.38,208.84L496.61,208.91L496.87,208.98L497.16,209.06L497.49,209.14L497.84,209.22L498.23,209.31L498.64,209.39L499.08,209.48L499.55,209.57L500.05,209.66L500.57,209.74L501.12,209.83L501.7,209.91L502.31,209.99L502.94,210.06L503.6,210.13L504.28,210.2L504.98,210.26L505.72,210.32L506.47,210.38L507.25,210.43L508.06,210.47L508.89,210.52L509.75,210.56L510.62,210.6L511.53,210.63L512.45,210.66L513.4,210.69L514.37,210.72L515.37,210.74L516.39,210.76L517.43,210.78L518.49,210.8L519.58,210.81L520.69,210.83L521.82,210.84L522.97,210.85L524.15,210.86L525.35,210.87L526.57,210.88L527.81,210.89L529.07,210.9L530.36,210.91L531.67,210.91L533,210.92L534.35,210.93L535.72,210.93L537.11,210.94L538.53,210.94L539.96,210.95L541.42,210.96L542.89,210.96L544.39,210.97L545.91,210.97L547.45,210.98" fill="none" stroke="#ea6f1c" stroke-width="1.2" stroke-dasharray="3.1,4.3" stroke-linejoin="round"/>
<path d="M440.93,211.4L441.46,211.4L442.26,226.48L442.33,226.45L442.47,226.4L442.67,226.32L442.9,226.24L443.18,226.14L443.49,226.03L443.83,225.92L444.21,225.81L444.61,225.69L445.04,225.57L445.5,225.45L445.98,225.33L446.49,225.21L447.03,225.09L447.58,224.98L448.16,224.87L448.76,224.76L449.38,224.66L450.09,224.56L450.83,224.47L451.59,224.38L452.37,224.29L453.18,224.21L454,224.13L454.85,224.06L455.72,223.99L456.6,223.93L457.51,223.87L458.44,223.81L459.38,223.76L460.35,223.71L461.33,223.66L462.34,223.61L463.36,223.57L464.4,223.53L465.45,223.49L466.53,223.45L467.62,223.42L468.73,223.38L469.86,223.35L471,223.31L472.16,223.28L473.34,223.25L474.54,223.22L475.75,223.19L476.97,223.16L478.22,223.13L479.48,223.1L480.75,223.08L482.04,223.05L483.35,223.02L484.67,222.99L486.01,222.96L487.36,222.93L488.73,222.91L490.11,222.88L491.51,222.85L492.92,222.82L494.35,222.79L495.79,222.76L495.79,207.74L495.82,207.76L495.9,207.79L496.02,207.84L496.18,207.9L496.38,207.98L496.61,208.06L496.87,208.16L497.16,208.26L497.49,208.37L497.84,208.48L498.23,208.6L498.64,208.71L499.08,208.83L499.55,208.95L500.05,209.07L500.57,209.18L501.12,209.29L501.7,209.4L502.31,209.51L502.94,209.61L503.6,209.7L504.28,209.79L504.98,209.87L505.72,209.95L506.47,210.03L507.25,210.1L508.06,210.16L508.89,210.22L509.75,210.27L510.62,210.32L511.53,210.37L512.45,210.41L513.4,210.45L514.37,210.48L515.37,210.51L516.39,210.54L517.43,210.57L518.49,210.59L519.58,210.61L520.69,210.63L521.82,210.65L522.97,210.67L524.15,210.68L525.35,210.69L526.57,210.71L527.81,210.72L529.07,210.73L530.36,210.74L531.67,210.75L533,210.76L534.35,210.77L535.72,210.77L537.11,210.78L538.53,210.79L539.96,210.8L541.42,210.81L542.89,210.81L544.39,210.82L545.91,210.83L547.45,210.83" fill="none" stroke="#ea6f1c" stroke-width="1.2" stroke-dasharray="3.1,4.3" stroke-linejoin="round"/>
<path d="M440.93,211.4L441.46,211.4L442.26,231.36L442.33,231.33L442.47,231.25L442.67,231.16L442.9,231.04L443.18,230.92L443.49,230.78L443.83,230.63L444.21,230.47L444.61,230.32L445.04,230.16L445.5,230L445.98,229.84L446.49,229.68L447.03,229.53L447.58,229.38L448.16,229.23L448.76,229.09L449.38,228.95L450.09,228.82L450.83,228.7L451.59,228.58L452.37,228.47L453.18,228.36L454,228.26L454.85,228.16L455.72,228.07L456.6,227.99L457.51,227.91L458.44,227.83L459.38,227.76L460.35,227.69L461.33,227.63L462.34,227.57L463.36,227.51L464.4,227.46L465.45,227.41L466.53,227.36L467.62,227.31L468.73,227.26L469.86,227.22L471,227.17L472.16,227.13L473.34,227.09L474.54,227.05L475.75,227.01L476.97,226.97L478.22,226.93L479.48,226.9L480.75,226.86L482.04,226.82L483.35,226.78L484.67,226.75L486.01,226.71L487.36,226.67L488.73,226.63L490.11,226.6L491.51,226.56L492.92,226.52L494.35,226.48L495.79,226.44L495.79,206.56L495.82,206.58L495.9,206.62L496.02,206.68L496.18,206.77L496.38,206.87L496.61,206.98L496.87,207.11L497.16,207.24L497.49,207.39L497.84,207.53L498.23,207.69L498.64,207.84L499.08,208L499.55,208.16L500.05,208.31L500.57,208.46L501.12,208.61L501.7,208.75L502.31,208.89L502.94,209.02L503.6,209.15L504.28,209.27L504.98,209.38L505.72,209.49L506.47,209.58L507.25,209.67L508.06,209.76L508.89,209.84L509.75,209.91L510.62,209.97L511.53,210.04L512.45,210.09L513.4,210.14L514.37,210.19L515.37,210.23L516.39,210.26L517.43,210.3L518.49,210.33L519.58,210.36L520.69,210.38L521.82,210.41L522.97,210.43L524.15,210.45L525.35,210.46L526.57,210.48L527.81,210.5L529.07,210.51L530.36,210.52L531.67,210.54L533,210.55L534.35,210.56L535.72,210.57L537.11,210.58L538.53,210.59L539.96,210.6L541.42,210.61L542.89,210.62L544.39,210.63L545.91,210.64L547.45,210.65" fill="none" stroke="#ea6f1c" stroke-width="1.2" stroke-dasharray="3.1,4.3" stroke-linejoin="round"/>
<path d="M440.93,211.4L441.46,211.4L442.26,250.9L442.33,250.83L442.47,250.68L442.67,250.5L442.9,250.27L443.18,250.02L443.49,249.74L443.83,249.45L444.21,249.14L444.61,248.83L445.04,248.51L445.5,248.2L445.98,247.88L446.49,247.57L447.03,247.27L447.58,246.97L448.16,246.68L448.76,246.4L449.38,246.13L450.09,245.87L450.83,245.63L451.59,245.39L452.37,245.17L453.18,244.96L454,244.76L454.85,244.57L455.72,244.39L456.6,244.23L457.51,244.07L458.44,243.92L459.38,243.78L460.35,243.64L461.33,243.52L462.34,243.4L463.36,243.28L464.4,243.17L465.45,243.07L466.53,242.97L467.62,242.88L468.73,242.79L469.86,242.7L471,242.61L472.16,242.53L473.34,242.45L474.54,242.37L475.75,242.29L476.97,242.21L478.22,242.14L479.48,242.06L480.75,241.99L482.04,241.91L483.35,241.84L484.67,241.76L486.01,241.69L487.36,241.62L488.73,241.54L490.11,241.47L491.51,241.39L492.92,241.32L494.35,241.24L495.79,241.17L495.79,201.82L495.82,201.85L495.9,201.94L496.02,202.07L496.18,202.23L496.38,202.43L496.61,202.66L496.87,202.9L497.16,203.17L497.49,203.46L497.84,203.75L498.23,204.05L498.64,204.36L499.08,204.67L499.55,204.98L500.05,205.29L500.57,205.59L501.12,205.88L501.7,206.16L502.31,206.44L502.94,206.7L503.6,206.95L504.28,207.18L504.98,207.4L505.72,207.61L506.47,207.81L507.25,207.99L508.06,208.15L508.89,208.31L509.75,208.45L510.62,208.58L511.53,208.7L512.45,208.81L513.4,208.91L514.37,209L515.37,209.08L516.39,209.15L517.43,209.22L518.49,209.28L519.58,209.34L520.69,209.39L521.82,209.43L522.97,209.48L524.15,209.51L525.35,209.55L526.57,209.58L527.81,209.61L529.07,209.64L530.36,209.67L531.67,209.69L533,209.72L534.35,209.74L535.72,209.76L537.11,209.78L538.53,209.8L539.96,209.82L541.42,209.84L542.89,209.86L544.39,209.88L545.91,209.9L547.45,209.92" fill="none" stroke="#ea6f1c" stroke-width="1.2" stroke-dasharray="3.1,4.3" stroke-linejoin="round"/>
<path d="M440.93,211.4L441.46,211.4L442.26,272.35L442.33,272.24L442.47,272.02L442.67,271.72L442.9,271.38L443.18,270.98L443.49,270.56L443.83,270.11L444.21,269.64L444.61,269.16L445.04,268.67L445.5,268.18L445.98,267.69L446.49,267.21L447.03,266.74L447.58,266.28L448.16,265.84L448.76,265.4L449.38,264.99L450.09,264.59L450.83,264.21L451.59,263.85L452.37,263.51L453.18,263.18L454,262.88L454.85,262.58L455.72,262.31L456.6,262.05L457.51,261.8L458.44,261.57L459.38,261.36L460.35,261.15L461.33,260.95L462.34,260.77L463.36,260.59L464.4,260.43L465.45,260.27L466.53,260.12L467.62,259.97L468.73,259.83L469.86,259.69L471,259.56L472.16,259.43L473.34,259.31L474.54,259.18L475.75,259.06L476.97,258.94L478.22,258.83L479.48,258.71L480.75,258.6L482.04,258.48L483.35,258.37L484.67,258.25L486.01,258.14L487.36,258.03L488.73,257.91L490.11,257.8L491.51,257.68L492.92,257.57L494.35,257.45L495.79,257.33L495.79,196.61L495.82,196.67L495.9,196.8L496.02,197L496.18,197.26L496.38,197.56L496.61,197.91L496.87,198.29L497.16,198.7L497.49,199.14L497.84,199.6L498.23,200.06L498.64,200.54L499.08,201.02L499.55,201.5L500.05,201.97L500.57,202.43L501.12,202.88L501.7,203.32L502.31,203.74L502.94,204.14L503.6,204.53L504.28,204.89L504.98,205.23L505.72,205.55L506.47,205.85L507.25,206.13L508.06,206.39L508.89,206.63L509.75,206.85L510.62,207.05L511.53,207.23L512.45,207.4L513.4,207.55L514.37,207.69L515.37,207.82L516.39,207.93L517.43,208.04L518.49,208.13L519.58,208.22L520.69,208.3L521.82,208.37L522.97,208.43L524.15,208.49L525.35,208.54L526.57,208.59L527.81,208.64L529.07,208.69L530.36,208.73L531.67,208.77L533,208.8L534.35,208.84L535.72,208.87L537.11,208.9L538.53,208.93L539.96,208.97L541.42,209L542.89,209.02L544.39,209.05L545.91,209.08L547.45,209.11" fill="none" stroke="#ea6f1c" stroke-width="1.2" stroke-dasharray="3.1,4.3" stroke-linejoin="round"/>
<path d="M440.93,211.4L441.46,211.4L442.26,292.52L442.33,292.37L442.47,292.08L442.67,291.69L442.9,291.23L443.18,290.71L443.49,290.14L443.83,289.54L444.21,288.91L444.61,288.27L445.04,287.62L445.5,286.97L445.98,286.33L446.49,285.69L447.03,285.06L447.58,284.45L448.16,283.85L448.76,283.28L449.38,282.73L450.09,282.2L450.83,281.7L451.59,281.21L452.37,280.76L453.18,280.32L454,279.91L454.85,279.53L455.72,279.16L456.6,278.81L457.51,278.49L458.44,278.18L459.38,277.89L460.35,277.62L461.33,277.36L462.34,277.11L463.36,276.88L464.4,276.66L465.45,276.44L466.53,276.24L467.62,276.05L468.73,275.86L469.86,275.68L471,275.5L472.16,275.33L473.34,275.16L474.54,275L475.75,274.84L476.97,274.68L478.22,274.53L479.48,274.37L480.75,274.22L482.04,274.07L483.35,273.91L484.67,273.76L486.01,273.61L487.36,273.46L488.73,273.31L490.11,273.15L491.51,273L492.92,272.85L494.35,272.69L495.79,272.54L495.79,191.72L495.82,191.79L495.9,191.97L496.02,192.24L496.18,192.58L496.38,192.98L496.61,193.44L496.87,193.95L497.16,194.5L497.49,195.08L497.84,195.69L498.23,196.31L498.64,196.95L499.08,197.58L499.55,198.22L500.05,198.85L500.57,199.46L501.12,200.06L501.7,200.65L502.31,201.21L502.94,201.74L503.6,202.25L504.28,202.74L504.98,203.19L505.72,203.62L506.47,204.02L507.25,204.39L508.06,204.73L508.89,205.05L509.75,205.34L510.62,205.61L511.53,205.85L512.45,206.08L513.4,206.28L514.37,206.47L515.37,206.63L516.39,206.79L517.43,206.92L518.49,207.05L519.58,207.16L520.69,207.27L521.82,207.36L522.97,207.45L524.15,207.53L525.35,207.6L526.57,207.67L527.81,207.73L529.07,207.79L530.36,207.84L531.67,207.89L533,207.94L534.35,207.99L535.72,208.03L537.11,208.08L538.53,208.12L539.96,208.16L541.42,208.2L542.89,208.24L544.39,208.28L545.91,208.31L547.45,208.35" fill="none" stroke="#ea6f1c" stroke-width="1.2" stroke-dasharray="3.1,4.3" stroke-linejoin="round"/>
<line x1="414.5" y1="187.75" x2="414.5" y2="294.6" stroke="#6a6a6a" stroke-width="0.9"/>
<line x1="412.3" y1="195.4" x2="414.5" y2="195.4" stroke="#8a8a8a" stroke-width="0.9"/>
<text x="409.5" y="197.4" font-size="6.5" text-anchor="end" stroke="#000" stroke-width="0.25">0.1</text>
<line x1="412.3" y1="211.4" x2="414.5" y2="211.4" stroke="#8a8a8a" stroke-width="0.9"/>
<text x="409.5" y="213.4" font-size="6.5" text-anchor="end" stroke="#000" stroke-width="0.25">0.0</text>
<line x1="412.3" y1="227.4" x2="414.5" y2="227.4" stroke="#8a8a8a" stroke-width="0.9"/>
<text x="409.5" y="229.4" font-size="6.5" text-anchor="end" stroke="#000" stroke-width="0.25">-0.1</text>
<line x1="412.3" y1="243.4" x2="414.5" y2="243.4" stroke="#8a8a8a" stroke-width="0.9"/>
<text x="409.5" y="245.4" font-size="6.5" text-anchor="end" stroke="#000" stroke-width="0.25">-0.2</text>
<line x1="412.3" y1="259.4" x2="414.5" y2="259.4" stroke="#8a8a8a" stroke-width="0.9"/>
<text x="409.5" y="261.4" font-size="6.5" text-anchor="end" stroke="#000" stroke-width="0.25">-0.3</text>
<line x1="412.3" y1="275.4" x2="414.5" y2="275.4" stroke="#8a8a8a" stroke-width="0.9"/>
<text x="409.5" y="277.4" font-size="6.5" text-anchor="end" stroke="#000" stroke-width="0.25">-0.4</text>
<line x1="412.3" y1="291.4" x2="414.5" y2="291.4" stroke="#8a8a8a" stroke-width="0.9"/>
<text x="409.5" y="293.4" font-size="6.5" text-anchor="end" stroke="#000" stroke-width="0.25">-0.5</text>
<line x1="413.2" y1="203.4" x2="414.5" y2="203.4" stroke="#8a8a8a" stroke-width="0.7"/>
<line x1="413.2" y1="219.4" x2="414.5" y2="219.4" stroke="#8a8a8a" stroke-width="0.7"/>
<line x1="413.2" y1="235.4" x2="414.5" y2="235.4" stroke="#8a8a8a" stroke-width="0.7"/>
<line x1="413.2" y1="251.4" x2="414.5" y2="251.4" stroke="#8a8a8a" stroke-width="0.7"/>
<line x1="413.2" y1="267.4" x2="414.5" y2="267.4" stroke="#8a8a8a" stroke-width="0.7"/>
<line x1="413.2" y1="283.4" x2="414.5" y2="283.4" stroke="#8a8a8a" stroke-width="0.7"/>
<line x1="414.5" y1="294.6" x2="548" y2="294.6" stroke="#9a9a9a" stroke-width="1.2"/>
<line x1="414.3" y1="294.6" x2="414.3" y2="296.8" stroke="#555" stroke-width="0.8"/>
<text x="414.3" y="304.1" font-size="6.6" text-anchor="middle" stroke="#000" stroke-width="0.25">0</text>
<line x1="440.93" y1="294.6" x2="440.93" y2="296.8" stroke="#555" stroke-width="0.8"/>
<text x="440.93" y="304.1" font-size="6.6" text-anchor="middle" stroke="#000" stroke-width="0.25">100</text>
<line x1="467.56" y1="294.6" x2="467.56" y2="296.8" stroke="#555" stroke-width="0.8"/>
<text x="467.56" y="304.1" font-size="6.6" text-anchor="middle" stroke="#000" stroke-width="0.25">200</text>
<line x1="494.19" y1="294.6" x2="494.19" y2="296.8" stroke="#555" stroke-width="0.8"/>
<text x="494.19" y="304.1" font-size="6.6" text-anchor="middle" stroke="#000" stroke-width="0.25">300</text>
<line x1="520.82" y1="294.6" x2="520.82" y2="296.8" stroke="#555" stroke-width="0.8"/>
<text x="520.82" y="304.1" font-size="6.6" text-anchor="middle" stroke="#000" stroke-width="0.25">400</text>
<line x1="547.45" y1="294.6" x2="547.45" y2="296.8" stroke="#555" stroke-width="0.8"/>
<text x="547.45" y="304.1" font-size="6.6" text-anchor="middle" stroke="#000" stroke-width="0.25">500</text>
<line x1="427.62" y1="294.6" x2="427.62" y2="296" stroke="#555" stroke-width="0.7"/>
<line x1="454.25" y1="294.6" x2="454.25" y2="296" stroke="#555" stroke-width="0.7"/>
<line x1="480.88" y1="294.6" x2="480.88" y2="296" stroke="#555" stroke-width="0.7"/>
<line x1="507.5" y1="294.6" x2="507.5" y2="296" stroke="#555" stroke-width="0.7"/>
<line x1="534.13" y1="294.6" x2="534.13" y2="296" stroke="#555" stroke-width="0.7"/>
<rect x="508.3" y="252.3" width="48.4" height="17.2" fill="#fff" stroke="#8a8a8a" stroke-width="0.6"/>
<line x1="509.7" y1="257.4" x2="524.7" y2="257.4" stroke="#e8701e" stroke-width="1.2" stroke-dasharray="2.2,1.4"/>
<line x1="509.7" y1="265" x2="524.7" y2="265" stroke="#1f7bc4" stroke-width="1.1"/>
<text x="528.5" y="259.5" font-size="7.6" font-style="italic" textLength="21" lengthAdjust="spacingAndGlyphs">Model</text>
<text x="528.5" y="267.2" font-size="7.6" textLength="23.3" lengthAdjust="spacingAndGlyphs">In vivo</text>
<text x="480.9" y="315.9" font-size="8.2" text-anchor="middle">Time (µs)</text>
<text transform="translate(391.7,239) rotate(-90)" font-size="8.2" text-anchor="middle">Current (mA)</text>
<path d="M401.3,152.5 L401.3,17 C401.3,8 413,2.8 430,2.8 C447,2.8 458.5,8 458.5,17 L458.5,152.5 Z" fill="#a8d4ef"/>
<path d="M401.3,18 L401.3,17 C401.3,8 413,2.8 430,2.8 C447,2.8 458.5,8 458.5,17 L458.5,18 Z" fill="#b2e3f4"/>
<path d="M407.9,152.5 L407.9,13.5 C407.9,8.5 418,6.2 430.2,6.2 C442.5,6.2 452.2,8.5 452.2,13.5 L452.2,152.5 Z" fill="#f6f4f2"/>
<path d="M408.6,152.5 L408.6,12.5 C408.6,9 418,7.0 430.2,7.0 C442.5,7.0 451.6,9 451.6,12.5 L451.6,152.5 Z" fill="#fcd2cc"/>
<rect x="411.2" y="12" width="1.8" height="140.5" fill="#f7b2b2"/>
<rect x="414.6" y="12" width="1.4" height="140.5" fill="#f9bcbc"/>
<rect x="417.4" y="12" width="2.2" height="140.5" fill="#f6aeae"/>
<rect x="421.0" y="12" width="1.2" height="140.5" fill="#fac4c2"/>
<rect x="423.6" y="12" width="2.0" height="140.5" fill="#f7b4b4"/>
<rect x="427.4" y="12" width="1.6" height="140.5" fill="#f8b8b8"/>
<rect x="430.6" y="12" width="1.2" height="140.5" fill="#fbc8c4"/>
<rect x="433.2" y="12" width="2.0" height="140.5" fill="#f8b6b4"/>
<rect x="436.8" y="12" width="1.4" height="140.5" fill="#fac2c0"/>
<rect x="439.8" y="12" width="1.8" height="140.5" fill="#f9bebc"/>
<rect x="443.2" y="12" width="1.2" height="140.5" fill="#fbcac6"/>
<rect x="446.0" y="12" width="1.4" height="140.5" fill="#fbc8c4"/>
<rect x="447.6" y="12" width="2" height="140.5" fill="#fde0d6"/>
<path d="M408.9,14.5 C408.9,9.5 418,7.0 430.1,7.0 C442.3,7.0 451.3,9.5 451.3,14.5 C445,16.5 415,16.5 408.9,14.5 Z" fill="#f9c6c6"/>
<path d="M408.9,14.5 C408.9,9.5 418,7.0 430.1,7.0 C442.3,7.0 451.3,9.5 451.3,14.5" fill="none" stroke="#caa884" stroke-width="0.5"/>
<circle cx="434.2" cy="13.0" r="0.55" fill="#f0a6ae"/>
<circle cx="440.0" cy="14.2" r="0.55" fill="#f0a6ae"/>
<circle cx="438.2" cy="14.0" r="0.55" fill="#f0a6ae"/>
<circle cx="414.0" cy="11.3" r="0.55" fill="#f0a6ae"/>
<circle cx="445.1" cy="12.4" r="0.55" fill="#f0a6ae"/>
<circle cx="443.6" cy="9.2" r="0.55" fill="#f0a6ae"/>
<circle cx="428.9" cy="10.0" r="0.55" fill="#f0a6ae"/>
<circle cx="431.5" cy="11.9" r="0.55" fill="#f0a6ae"/>
<circle cx="413.4" cy="9.8" r="0.55" fill="#f0a6ae"/>
<circle cx="422.5" cy="14.0" r="0.55" fill="#f0a6ae"/>
<circle cx="439.0" cy="9.5" r="0.55" fill="#f0a6ae"/>
<circle cx="440.1" cy="9.3" r="0.55" fill="#f0a6ae"/>
<circle cx="434.0" cy="9.3" r="0.55" fill="#f0a6ae"/>
<circle cx="413.1" cy="13.7" r="0.55" fill="#f0a6ae"/>
<circle cx="420.1" cy="9.8" r="0.55" fill="#f0a6ae"/>
<circle cx="446.4" cy="13.7" r="0.55" fill="#f0a6ae"/>
<circle cx="422.8" cy="14.3" r="0.55" fill="#f0a6ae"/>
<circle cx="431.3" cy="12.6" r="0.55" fill="#f0a6ae"/>
<circle cx="420.0" cy="14.1" r="0.55" fill="#f0a6ae"/>
<circle cx="436.5" cy="14.3" r="0.55" fill="#f0a6ae"/>
<circle cx="443.4" cy="10.3" r="0.55" fill="#f0a6ae"/>
<circle cx="425.3" cy="9.5" r="0.55" fill="#f0a6ae"/>
<circle cx="418.0" cy="8.9" r="0.55" fill="#f0a6ae"/>
<circle cx="423.2" cy="12.1" r="0.55" fill="#f0a6ae"/>
<circle cx="413.1" cy="12.6" r="0.55" fill="#f0a6ae"/>
<circle cx="424.5" cy="10.4" r="0.55" fill="#f0a6ae"/>
<rect x="407.9" y="12.5" width="2" height="140" fill="#e65a78"/>
<rect x="409.9" y="13" width="0.9" height="139.5" fill="#c8b070" opacity="0.8"/>
<rect x="449.4" y="13" width="0.9" height="139.5" fill="#d8b888" opacity="0.8"/>
<rect x="450.2" y="12.5" width="2" height="140" fill="#d86276"/>
<rect x="405.1" y="32.5" width="2.3" height="16.3" fill="#f4cf52"/>
<rect x="452.4" y="32.5" width="2.3" height="16.3" fill="#f4cf52"/>
<rect x="405.1" y="109" width="2.3" height="17.4" fill="#f4cf52"/>
<rect x="452.4" y="109" width="2.3" height="17.4" fill="#f4cf52"/>
<path d="M393,42.2 H399.2 M396.1,39.1 V45.3" stroke="#111" stroke-width="1.3"/>
<rect x="396.1" y="115" width="1.4" height="6.8" fill="#222"/>
<defs><linearGradient id="inner" x1="0" y1="0" x2="0" y2="1"><stop offset="0" stop-color="#0cd6f8"/><stop offset="0.154" stop-color="#0cd0f8"/><stop offset="0.27" stop-color="#12a8f6"/><stop offset="0.358" stop-color="#1a84f4"/><stop offset="0.643" stop-color="#1a80f4"/><stop offset="0.725" stop-color="#1690f4"/><stop offset="0.813" stop-color="#0fbcf6"/><stop offset="0.915" stop-color="#0cccf8"/><stop offset="1" stop-color="#0cd0f8"/></linearGradient><linearGradient id="hot" x1="0" y1="0" x2="0" y2="1"><stop offset="0" stop-color="#d8e41c"/><stop offset="0.1" stop-color="#e8d018"/><stop offset="0.154" stop-color="#f09010"/><stop offset="0.188" stop-color="#e86010"/><stop offset="0.208" stop-color="#80d040"/><stop offset="0.228" stop-color="#20c0e0"/><stop offset="0.253" stop-color="#0818b8"/><stop offset="0.759" stop-color="#0818b8"/><stop offset="0.78" stop-color="#20c0e0"/><stop offset="0.8" stop-color="#80d040"/><stop offset="0.82" stop-color="#e86010"/><stop offset="0.88" stop-color="#f0a010"/><stop offset="1" stop-color="#e0e020"/></linearGradient></defs>
<rect x="475" y="5.3" width="64.5" height="147.2" fill="#0ccdf4"/>
<rect x="489.6" y="5.3" width="33" height="147.2" fill="url(#inner)"/>
<rect x="486.7" y="5.3" width="0.9" height="147.2" fill="#1a8aa0"/>
<rect x="487.5" y="5.3" width="2.4" height="147.2" fill="url(#hot)"/>
<rect x="522.5" y="5.3" width="2.4" height="147.2" fill="url(#hot)"/>
<rect x="524.9" y="5.3" width="0.9" height="147.2" fill="#1a8aa0"/>
<rect x="489.9" y="42" width="1.2" height="75" fill="#0e50d8" opacity="0.8"/>
<rect x="521.3" y="42" width="1.2" height="75" fill="#0e50d8" opacity="0.8"/>
<rect x="506" y="5.3" width="0.6" height="147.2" fill="#1e7898"/>
<path d="M493.6,38 v3.2 M492.8,40.4 L493.6,41.4 L494.40000000000003,40.4" stroke="#0c30c8" stroke-width="0.8" fill="none" opacity="0.35"/>
<path d="M493.6,46 v3.2 M492.8,48.4 L493.6,49.4 L494.40000000000003,48.4" stroke="#0c30c8" stroke-width="0.8" fill="none" opacity="0.75"/>
<path d="M493.6,54 v3.2 M492.8,56.4 L493.6,57.4 L494.40000000000003,56.4" stroke="#0c30c8" stroke-width="0.8" fill="none" opacity="0.75"/>
<path d="M493.6,62 v3.2 M492.8,64.4 L493.6,65.4 L494.40000000000003,64.4" stroke="#0c30c8" stroke-width="0.8" fill="none" opacity="0.75"/>
<path d="M493.6,70 v3.2 M492.8,72.4 L493.6,73.4 L494.40000000000003,72.4" stroke="#0c30c8" stroke-width="0.8" fill="none" opacity="0.75"/>
<path d="M493.6,78 v3.2 M492.8,80.4 L493.6,81.4 L494.40000000000003,80.4" stroke="#0c30c8" stroke-width="0.8" fill="none" opacity="0.75"/>
<path d="M493.6,86 v3.2 M492.8,88.4 L493.6,89.4 L494.40000000000003,88.4" stroke="#0c30c8" stroke-width="0.8" fill="none" opacity="0.75"/>
<path d="M493.6,94 v3.2 M492.8,96.4 L493.6,97.4 L494.40000000000003,96.4" stroke="#0c30c8" stroke-width="0.8" fill="none" opacity="0.75"/>
<path d="M493.6,102 v3.2 M492.8,104.4 L493.6,105.4 L494.40000000000003,104.4" stroke="#0c30c8" stroke-width="0.8" fill="none" opacity="0.75"/>
<path d="M493.6,110 v3.2 M492.8,112.4 L493.6,113.4 L494.40000000000003,112.4" stroke="#0c30c8" stroke-width="0.8" fill="none" opacity="0.75"/>
<path d="M493.6,118 v3.2 M492.8,120.4 L493.6,121.4 L494.40000000000003,120.4" stroke="#0c30c8" stroke-width="0.8" fill="none" opacity="0.35"/>
<path d="M502,38 v3.2 M501.2,40.4 L502,41.4 L502.8,40.4" stroke="#0c30c8" stroke-width="0.8" fill="none" opacity="0.35"/>
<path d="M502,46 v3.2 M501.2,48.4 L502,49.4 L502.8,48.4" stroke="#0c30c8" stroke-width="0.8" fill="none" opacity="0.75"/>
<path d="M502,54 v3.2 M501.2,56.4 L502,57.4 L502.8,56.4" stroke="#0c30c8" stroke-width="0.8" fill="none" opacity="0.75"/>
<path d="M502,62 v3.2 M501.2,64.4 L502,65.4 L502.8,64.4" stroke="#0c30c8" stroke-width="0.8" fill="none" opacity="0.75"/>
<path d="M502,70 v3.2 M501.2,72.4 L502,73.4 L502.8,72.4" stroke="#0c30c8" stroke-width="0.8" fill="none" opacity="0.75"/>
<path d="M502,78 v3.2 M501.2,80.4 L502,81.4 L502.8,80.4" stroke="#0c30c8" stroke-width="0.8" fill="none" opacity="0.75"/>
<path d="M502,86 v3.2 M501.2,88.4 L502,89.4 L502.8,88.4" stroke="#0c30c8" stroke-width="0.8" fill="none" opacity="0.75"/>
<path d="M502,94 v3.2 M501.2,96.4 L502,97.4 L502.8,96.4" stroke="#0c30c8" stroke-width="0.8" fill="none" opacity="0.75"/>
<path d="M502,102 v3.2 M501.2,104.4 L502,105.4 L502.8,104.4" stroke="#0c30c8" stroke-width="0.8" fill="none" opacity="0.75"/>
<path d="M502,110 v3.2 M501.2,112.4 L502,113.4 L502.8,112.4" stroke="#0c30c8" stroke-width="0.8" fill="none" opacity="0.75"/>
<path d="M502,118 v3.2 M501.2,120.4 L502,121.4 L502.8,120.4" stroke="#0c30c8" stroke-width="0.8" fill="none" opacity="0.35"/>
<path d="M510,38 v3.2 M509.2,40.4 L510,41.4 L510.8,40.4" stroke="#0c30c8" stroke-width="0.8" fill="none" opacity="0.35"/>
<path d="M510,46 v3.2 M509.2,48.4 L510,49.4 L510.8,48.4" stroke="#0c30c8" stroke-width="0.8" fill="none" opacity="0.75"/>
<path d="M510,54 v3.2 M509.2,56.4 L510,57.4 L510.8,56.4" stroke="#0c30c8" stroke-width="0.8" fill="none" opacity="0.75"/>
<path d="M510,62 v3.2 M509.2,64.4 L510,65.4 L510.8,64.4" stroke="#0c30c8" stroke-width="0.8" fill="none" opacity="0.75"/>
<path d="M510,70 v3.2 M509.2,72.4 L510,73.4 L510.8,72.4" stroke="#0c30c8" stroke-width="0.8" fill="none" opacity="0.75"/>
<path d="M510,78 v3.2 M509.2,80.4 L510,81.4 L510.8,80.4" stroke="#0c30c8" stroke-width="0.8" fill="none" opacity="0.75"/>
<path d="M510,86 v3.2 M509.2,88.4 L510,89.4 L510.8,88.4" stroke="#0c30c8" stroke-width="0.8" fill="none" opacity="0.75"/>
<path d="M510,94 v3.2 M509.2,96.4 L510,97.4 L510.8,96.4" stroke="#0c30c8" stroke-width="0.8" fill="none" opacity="0.75"/>
<path d="M510,102 v3.2 M509.2,104.4 L510,105.4 L510.8,104.4" stroke="#0c30c8" stroke-width="0.8" fill="none" opacity="0.75"/>
<path d="M510,110 v3.2 M509.2,112.4 L510,113.4 L510.8,112.4" stroke="#0c30c8" stroke-width="0.8" fill="none" opacity="0.75"/>
<path d="M510,118 v3.2 M509.2,120.4 L510,121.4 L510.8,120.4" stroke="#0c30c8" stroke-width="0.8" fill="none" opacity="0.35"/>
<path d="M518,38 v3.2 M517.2,40.4 L518,41.4 L518.8,40.4" stroke="#0c30c8" stroke-width="0.8" fill="none" opacity="0.35"/>
<path d="M518,46 v3.2 M517.2,48.4 L518,49.4 L518.8,48.4" stroke="#0c30c8" stroke-width="0.8" fill="none" opacity="0.75"/>
<path d="M518,54 v3.2 M517.2,56.4 L518,57.4 L518.8,56.4" stroke="#0c30c8" stroke-width="0.8" fill="none" opacity="0.75"/>
<path d="M518,62 v3.2 M517.2,64.4 L518,65.4 L518.8,64.4" stroke="#0c30c8" stroke-width="0.8" fill="none" opacity="0.75"/>
<path d="M518,70 v3.2 M517.2,72.4 L518,73.4 L518.8,72.4" stroke="#0c30c8" stroke-width="0.8" fill="none" opacity="0.75"/>
<path d="M518,78 v3.2 M517.2,80.4 L518,81.4 L518.8,80.4" stroke="#0c30c8" stroke-width="0.8" fill="none" opacity="0.75"/>
<path d="M518,86 v3.2 M517.2,88.4 L518,89.4 L518.8,88.4" stroke="#0c30c8" stroke-width="0.8" fill="none" opacity="0.75"/>
<path d="M518,94 v3.2 M517.2,96.4 L518,97.4 L518.8,96.4" stroke="#0c30c8" stroke-width="0.8" fill="none" opacity="0.75"/>
<path d="M518,102 v3.2 M517.2,104.4 L518,105.4 L518.8,104.4" stroke="#0c30c8" stroke-width="0.8" fill="none" opacity="0.75"/>
<path d="M518,110 v3.2 M517.2,112.4 L518,113.4 L518.8,112.4" stroke="#0c30c8" stroke-width="0.8" fill="none" opacity="0.75"/>
<path d="M518,118 v3.2 M517.2,120.4 L518,121.4 L518.8,120.4" stroke="#0c30c8" stroke-width="0.8" fill="none" opacity="0.35"/>
<rect x="549.2" y="22.4" width="3.6" height="127.6" fill="url(#cbar)"/>
<text x="554" y="24.63" font-size="6.5" stroke="#000" stroke-width="0.15">100</text>
<text x="554" y="39.36" font-size="6.5" stroke="#000" stroke-width="0.15">80</text>
<text x="554" y="54.1" font-size="6.5" stroke="#000" stroke-width="0.15">60</text>
<text x="554" y="68.83" font-size="6.5" stroke="#000" stroke-width="0.15">40</text>
<text x="554" y="83.57" font-size="6.5" stroke="#000" stroke-width="0.15">20</text>
<text x="554" y="98.3" font-size="6.5" stroke="#000" stroke-width="0.15">0</text>
<text x="554" y="113.03" font-size="6.5" stroke="#000" stroke-width="0.15">-20</text>
<text x="554" y="127.77" font-size="6.5" stroke="#000" stroke-width="0.15">-40</text>
<text x="554" y="142.5" font-size="6.5" stroke="#000" stroke-width="0.15">-60</text>
<text x="550.3" y="11.6" font-size="7.6" font-weight="bold">A/m<tspan font-size="5" dy="-2.8">2</tspan></text>
<text x="13.4" y="18.8" font-size="10.3" textLength="38.8" lengthAdjust="spacingAndGlyphs" style="stroke-width:0.45px">Proximal</text>
<text x="59.3" y="11.3" font-size="10.3" textLength="59.7" lengthAdjust="spacingAndGlyphs" style="stroke-width:0.45px">Sciatic nerve</text>
<text x="124.6" y="18.6" font-size="10.3" textLength="25.2" lengthAdjust="spacingAndGlyphs" style="stroke-width:0.45px">Distal</text>
<line x1="112.4" y1="11.8" x2="123.7" y2="25.4" stroke="#111" stroke-width="1.0"/>
<path d="M37,20.2 L101,19.8 C107,19.8 112.5,22 112.5,27 L112.5,56 L113,62.5 L119,62.5 C113,63.5 110,66 108.5,70 L105.6,80 L101.9,100 L99,115 L96,122 L92,130 L80,144.6 L40,142.5 L1,143.1 C4,136 8,128 14.8,116 L18.4,99.5 L32.6,61 L33,24 C33,21.5 35,20.2 37,20.2 Z" fill="#c9d5ea"/>
<path d="M119,62.5 C113,63.5 110,66 108.5,70 L105.6,80 L101.9,100 L99,115 L96,122 L92,130" fill="none" stroke="#b2bed2" stroke-width="1.6"/>
<path d="M1,143.1 L40,142.5 L80,144.6 L92,130 L94.5,130.5 L81.5,147.4 L40,145.3 L2.5,145.4 Z" fill="#aab4c7"/>
<path d="M32.6,61 L104.3,62 C102.5,72 101,80 99.5,90 L96,116.3 L16.5,116.3 C18,110 20,105 22,100 Z" fill="#b8c7e2"/>
<path d="M16.5,114.8 L96.2,114.8 L96,116.5 L16.2,116.5 Z" fill="#aab9d4"/>
<path d="M30.5,63 L18.4,99.5 C16,105 13.5,110 11.9,116.3 L16.5,116.3 C18,110 20,105 22,100 L32.6,61 Z" fill="#dae2ef"/>
<path d="M104.3,62 L113,62.5 C110,65 108,68 107,72 L104,84 L100.5,100 L97.5,116.3 L96,116.3 L99.5,90 C101,80 102.5,72 104.3,62 Z" fill="#cbd6ea"/>
<path d="M44.4,62 L54.7,62 C51,70 49.5,75 48.1,80 L42.1,100 L37.6,116.3 L30.1,116.3 L34.6,100 L39.7,80 C41,74 42.5,68 44.4,62 Z" fill="#dccb7e"/>
<path d="M30.1,116.3 L37.6,116.3 C35,125 31.5,133 29.7,139.4 L18.8,139.4 C22.5,131 27,123 30.1,116.3 Z" fill="#f6d35a"/>
<path d="M84.7,62 L94.1,62 C91,70 90,75 88.5,80 L82.9,100 L78,116.3 L70.5,116.3 L75.3,100 L80,80 C81.5,74 83,68 84.7,62 Z" fill="#dccb7e"/>
<path d="M70.5,116.3 L78,116.3 C75.5,125 71.5,133 68.7,138.9 L58.8,138.9 C63,132 67.5,124 70.5,116.3 Z" fill="#f6d35a"/>
<rect x="11" y="140.3" width="6.8" height="1.6" fill="#111"/>
<path d="M68.7,142.3 H75.5 M72.1,138.9 V145.7" stroke="#111" stroke-width="1.4"/>
<defs><linearGradient id="nleft" x1="0" y1="0" x2="1" y2="0"><stop offset="0" stop-color="#f8b0a0"/><stop offset="0.5" stop-color="#f4bcb4"/><stop offset="1" stop-color="#efc9d0" stop-opacity="0"/></linearGradient></defs>
<path d="M30,23.6 L131,23.6 L131,62.5 L30,62.5 C26.5,62.5 25.2,55 25.2,43 C25.2,31 26.5,23.6 30,23.6 Z" fill="#fbd3c4"/>
<path d="M30,23.6 L101,23.6 C105,23.6 108,30 108,43 C108,56 105,62.5 101,62.5 L30,62.5 C26.5,62.5 25.2,55 25.2,43 C25.2,31 26.5,23.6 30,23.6 Z" fill="#e8ccd4"/>
<path d="M101,23.6 C105,23.6 108,30 108,43 C108,56 105,62.5 101,62.5 L99,62.5 C102,58 104,52 104,43 C104,34 102,27 99,23.6 Z" fill="#dcc6d4"/>
<path d="M30,23.6 L38,23.6 L38,62.5 L30,62.5 C26.5,62.5 25.2,55 25.2,43 C25.2,31 26.5,23.6 30,23.6 Z" fill="url(#nleft)"/>
<path d="M26,27 C50,26.5 80,27.2 128,26.8" stroke="#e46468" stroke-width="0.8" fill="none" opacity="0.85"/>
<path d="M25.5,44.2 C40,44.5 55,43.5 70,42.2 C90,41 110,41.5 128,41.5" stroke="#e46468" stroke-width="0.8" fill="none" opacity="0.9"/>
<path d="M26,55.4 C45,55.8 70,57 95,56.8 C110,56.6 120,57.3 128,57" stroke="#e46468" stroke-width="0.8" fill="none" opacity="0.85"/>
<path d="M28,33 C55,33.5 90,33 125,33.8" stroke="#eab8b0" stroke-width="0.7" fill="none" opacity="0.5"/>
<path d="M28,38 C60,37.5 95,37 125,37.8" stroke="#eab8b0" stroke-width="0.7" fill="none" opacity="0.45"/>
<path d="M28,49 C60,49.5 95,48.5 125,49.5" stroke="#eab8b0" stroke-width="0.7" fill="none" opacity="0.5"/>
<path d="M28,60 C60,60.5 95,59.5 125,60" stroke="#eab8b0" stroke-width="0.7" fill="none" opacity="0.4"/>
<path d="M48.4,23.6 L58.7,23.6 C54,32 51.5,40 51,46 C51,52 51.5,57 51.8,62.5 L44,62.5 C43,57 43,50 43.2,44 C43.5,36 45.5,29 48.4,23.6 Z" fill="#e2c878"/>
<path d="M89.4,23.6 L99.7,23.6 C97,27 95.5,31 95,35 C94,42 93.5,50 93.1,62.5 L86.6,62.5 C86.8,52 87,42 87.5,35 C88,30 88.6,26 89.4,23.6 Z" fill="#e2c878"/>
<ellipse cx="131" cy="43.4" rx="8.6" ry="19.8" fill="#fcd6cf" stroke="#ef8e90" stroke-width="0.8"/>
<ellipse cx="130.6" cy="36.8" rx="4.6" ry="7" fill="#f3a4ac" stroke="#fbe2e0" stroke-width="0.6"/>
<ellipse cx="137" cy="46.2" rx="2.5" ry="4.2" fill="#f3a4ac" stroke="#fbe2e0" stroke-width="0.6"/>
<ellipse cx="131.6" cy="54.6" rx="4" ry="5.2" fill="#f3a4ac" stroke="#fbe2e0" stroke-width="0.6"/>
<circle cx="128.5" cy="37.8" r="0.45" fill="#e88a96"/>
<circle cx="132.2" cy="35.5" r="0.45" fill="#e88a96"/>
<circle cx="128.3" cy="36.6" r="0.45" fill="#e88a96"/>
<circle cx="131.4" cy="39.6" r="0.45" fill="#e88a96"/>
<circle cx="128.5" cy="33.4" r="0.45" fill="#e88a96"/>
<circle cx="131.6" cy="37.8" r="0.45" fill="#e88a96"/>
<circle cx="133.3" cy="39.4" r="0.45" fill="#e88a96"/>
<circle cx="130.5" cy="36.6" r="0.45" fill="#e88a96"/>
<circle cx="134.3" cy="36.2" r="0.45" fill="#e88a96"/>
<circle cx="129.2" cy="33.8" r="0.45" fill="#e88a96"/>
<circle cx="130.6" cy="36.9" r="0.45" fill="#e88a96"/>
<circle cx="130.4" cy="36.7" r="0.45" fill="#e88a96"/>
<circle cx="130.9" cy="38.1" r="0.45" fill="#e88a96"/>
<circle cx="132.4" cy="37.3" r="0.45" fill="#e88a96"/>
<circle cx="127.5" cy="38.6" r="0.45" fill="#e88a96"/>
<circle cx="128.1" cy="36.3" r="0.45" fill="#e88a96"/>
<circle cx="128.0" cy="36.8" r="0.45" fill="#e88a96"/>
<circle cx="129.6" cy="37.2" r="0.45" fill="#e88a96"/>
<circle cx="134.5" cy="36.7" r="0.45" fill="#e88a96"/>
<circle cx="137.8" cy="44.1" r="0.45" fill="#e88a96"/>
<circle cx="136.8" cy="47.0" r="0.45" fill="#e88a96"/>
<circle cx="137.0" cy="46.4" r="0.45" fill="#e88a96"/>
<circle cx="137.1" cy="44.8" r="0.45" fill="#e88a96"/>
<circle cx="137.5" cy="45.1" r="0.45" fill="#e88a96"/>
<circle cx="138.7" cy="45.4" r="0.45" fill="#e88a96"/>
<circle cx="132.3" cy="54.6" r="0.45" fill="#e88a96"/>
<circle cx="133.0" cy="53.5" r="0.45" fill="#e88a96"/>
<circle cx="132.9" cy="54.4" r="0.45" fill="#e88a96"/>
<circle cx="133.5" cy="55.8" r="0.45" fill="#e88a96"/>
<circle cx="131.8" cy="53.4" r="0.45" fill="#e88a96"/>
<circle cx="132.6" cy="55.4" r="0.45" fill="#e88a96"/>
<circle cx="134.1" cy="53.8" r="0.45" fill="#e88a96"/>
<circle cx="132.2" cy="55.3" r="0.45" fill="#e88a96"/>
<circle cx="131.8" cy="54.8" r="0.45" fill="#e88a96"/>
<circle cx="131.8" cy="53.8" r="0.45" fill="#e88a96"/>
<circle cx="130.2" cy="53.9" r="0.45" fill="#e88a96"/>
<circle cx="132.5" cy="57.6" r="0.45" fill="#e88a96"/>
<g stroke="#1a1a1a" stroke-width="1.1" fill="none" stroke-linejoin="miter">
<path d="M112.3,104.2 V88 H130.3 L132,84.8 L134,90.8 L136,84.8 L138,90.8 L140,84.8 L142,90.8 L144,84.8 L145.3,88 H164 V104.2"/>
<path d="M112.3,107.2 V123.4 L115.8,125.4 L109.2,127.6 L115.8,129.8 L109.2,132 L115.8,134.2 L109.2,136.4 L115.8,138.6 L112.6,140.2 V146.3 H136.2"/>
<path d="M164,107.2 V123.4 L167.2,125.4 L160.6,127.6 L167.2,129.8 L160.6,132 L167.2,134.2 L160.6,136.4 L167.2,138.6 L164,140.2 V146.3 H139.9"/>
<path d="M136.2,140.8 V149.6 M139.9,139.5 V153"/>
<path d="M108.2,104.2 H116.4 M108.2,108.2 Q112.3,105.4 116.4,108.2"/>
<path d="M159.9,104.2 H168.1 M159.9,108.2 Q164,105.4 168.1,108.2"/>
</g>
<text x="133.4" y="78.7" font-size="8.8">R<tspan font-size="5.4" dy="3">N</tspan></text>
<text x="119.8" y="109.4" font-size="9">Q<tspan font-size="5" dy="2.4">El</tspan></text>
<text x="171.8" y="109.4" font-size="9">Q<tspan font-size="5" dy="2.4">El</tspan></text>
<text x="120.2" y="134.2" font-size="9">R<tspan font-size="5.4" dy="2.6">C</tspan></text>
<text x="172.1" y="134.2" font-size="9">R<tspan font-size="5.4" dy="2.6">C</tspan></text>
<g clip-path="url(#photoclip)">
<g filter="url(#blg)">
<rect x="7" y="167.3" width="30" height="29.7" fill="#923434"/>
<rect x="37" y="167.3" width="21" height="29.7" fill="#943636"/>
<rect x="58" y="167.3" width="22" height="29.7" fill="#8e3030"/>
<rect x="80" y="167.3" width="22" height="29.7" fill="#823030"/>
<rect x="102" y="167.3" width="22" height="29.7" fill="#8a3c3c"/>
<rect x="124" y="167.3" width="30" height="29.7" fill="#a06868"/>
<rect x="7" y="197" width="30" height="21" fill="#b03a3a"/>
<rect x="37" y="197" width="21" height="21" fill="#6a2222"/>
<rect x="58" y="197" width="22" height="21" fill="#5a1c1c"/>
<rect x="80" y="197" width="22" height="21" fill="#521a1a"/>
<rect x="102" y="197" width="22" height="21" fill="#461616"/>
<rect x="124" y="197" width="30" height="21" fill="#6a3a3a"/>
<rect x="7" y="218" width="30" height="22" fill="#b83a3a"/>
<rect x="37" y="218" width="21" height="22" fill="#b04848"/>
<rect x="58" y="218" width="22" height="22" fill="#a05050"/>
<rect x="80" y="218" width="22" height="22" fill="#985858"/>
<rect x="102" y="218" width="22" height="22" fill="#7a4444"/>
<rect x="124" y="218" width="30" height="22" fill="#3e1a1a"/>
<rect x="7" y="240" width="30" height="22" fill="#a84040"/>
<rect x="37" y="240" width="21" height="22" fill="#843430"/>
<rect x="58" y="240" width="22" height="22" fill="#8c4636"/>
<rect x="80" y="240" width="22" height="22" fill="#5a2626"/>
<rect x="102" y="240" width="22" height="22" fill="#4a1e1e"/>
<rect x="124" y="240" width="30" height="22" fill="#3e1818"/>
<rect x="7" y="262" width="30" height="22" fill="#a84848"/>
<rect x="37" y="262" width="21" height="22" fill="#984640"/>
<rect x="58" y="262" width="22" height="22" fill="#9a5448"/>
<rect x="80" y="262" width="22" height="22" fill="#965a50"/>
<rect x="102" y="262" width="22" height="22" fill="#864844"/>
<rect x="124" y="262" width="30" height="22" fill="#542424"/>
<rect x="7" y="284" width="30" height="30" fill="#a85050"/>
<rect x="37" y="284" width="21" height="30" fill="#a05454"/>
<rect x="58" y="284" width="22" height="30" fill="#a46060"/>
<rect x="80" y="284" width="22" height="30" fill="#a87070"/>
<rect x="102" y="284" width="22" height="30" fill="#986464"/>
<rect x="124" y="284" width="30" height="30" fill="#5a2828"/>
</g>
<rect x="15" y="175.3" width="131" height="130.7" filter="url(#tex)" opacity="0.35"/>
<ellipse cx="22" cy="215" rx="6" ry="12" fill="#c43434" opacity="0.7" filter="url(#bl2)"/>
<ellipse cx="30" cy="240" rx="7" ry="7" fill="#b83434" opacity="0.6" filter="url(#bl2)"/>
<ellipse cx="138" cy="196" rx="8" ry="10" fill="#a87070" opacity="0.7" filter="url(#bl2)"/>
<ellipse cx="134" cy="236" rx="10" ry="10" fill="#2a0c0c" opacity="0.8" filter="url(#bl2)"/>
<ellipse cx="24" cy="200" rx="3" ry="3" fill="#e07070" opacity="0.6" filter="url(#bl2)"/>
<ellipse cx="30" cy="212" rx="3" ry="2" fill="#e08080" opacity="0.6" filter="url(#bl2)"/>
<path d="M42,207 C60,200 90,197 110,198 C118,199 124,205 126,215 L124,228 C105,226 80,224 50,222 Z" fill="#4c1414" opacity="0.85" filter="url(#bl2)"/>
<path d="M112,200 C125,205 135,215 146,225 L146,250 L125,250 C124,235 120,215 112,200 Z" fill="#301010" opacity="0.8" filter="url(#bl2)"/>
<path d="M60,236 C80,239 105,240 128,234 L128,247 C105,253 80,250 60,243 Z" fill="#220808" filter="url(#bl3)"/>
<defs><linearGradient id="nrv" x1="30" y1="0" x2="124" y2="0" gradientUnits="userSpaceOnUse"><stop offset="0" stop-color="#c03c3c"/><stop offset="0.15" stop-color="#c85050"/><stop offset="0.4" stop-color="#cc7070"/><stop offset="1" stop-color="#d89494"/></linearGradient></defs>
<path d="M30,221 C45,220.5 60,222 80,224.5 C100,226.5 112,226.5 123,227 C126,230 126,235 123,237.5 C110,238 95,238 80,237.5 C60,236.5 45,235.5 30,234.5 Z" fill="url(#nrv)" filter="url(#bl3)"/>
<path d="M44,225.5 C60,226.5 80,229 100,230.5 C110,230.7 116,230.3 121,230" stroke="#e6b2b2" stroke-width="2.2" fill="none" filter="url(#bl3)"/>
<path d="M96,229.5 C105,230 112,230 120,229.5" stroke="#f4dada" stroke-width="1.2" fill="none" filter="url(#bl3)"/>
<path d="M64,240 C75,240 90,242 100,244.5 C108,246 116,245 124,241" stroke="#ece0d8" stroke-width="1.3" fill="none" filter="url(#bl3)"/>
<path d="M106.4,198.4 L131,238" stroke="#c8a090" stroke-width="0.8" fill="none" opacity="0.6"/>
<path d="M61,238 L67,238 L68,268 L62,268 Z" fill="#b87040" opacity="0.6" filter="url(#bl3)"/>
<path d="M90,239 L96,239 L97,278 L91,278 Z" fill="#b87040" opacity="0.55" filter="url(#bl3)"/>
<path d="M59.4,222.5 L66,223.2 L66.5,236.5 L61,236 Z" fill="#c09450" opacity="0.75"/>
<path d="M90.2,226.5 L95.6,227 L95.9,237 L90.5,237 Z" fill="#b88848" opacity="0.75"/>
<path d="M80,277 L96,278" stroke="#7090d0" stroke-width="0.6" opacity="0.7"/>
<circle cx="135" cy="193" r="1.6" fill="#d8b8b0" opacity="0.7" filter="url(#bl3)"/>
<circle cx="141" cy="210" r="2" fill="#d8b8b0" opacity="0.7" filter="url(#bl3)"/>
<circle cx="134" cy="226" r="1.2" fill="#d8b8b0" opacity="0.7" filter="url(#bl3)"/>
<circle cx="93" cy="216" r="1.0" fill="#d8b8b0" opacity="0.7" filter="url(#bl3)"/>
<circle cx="110" cy="220" r="0.9" fill="#d8b8b0" opacity="0.7" filter="url(#bl3)"/>
<circle cx="138" cy="240" r="1.2" fill="#d8b8b0" opacity="0.7" filter="url(#bl3)"/>
<circle cx="52" cy="266" r="1.0" fill="#d8b8b0" opacity="0.7" filter="url(#bl3)"/>
<circle cx="80" cy="262" r="1.2" fill="#d8b8b0" opacity="0.7" filter="url(#bl3)"/>
<circle cx="124" cy="250" r="0.8" fill="#d8b8b0" opacity="0.7" filter="url(#bl3)"/>
<circle cx="124" cy="258" r="0.8" fill="#d8b8b0" opacity="0.7" filter="url(#bl3)"/>
</g>
<line x1="37.4" y1="191.5" x2="40.8" y2="225" stroke="#fff" stroke-width="0.9"/>
<line x1="62" y1="228.5" x2="36.5" y2="266" stroke="#fff" stroke-width="0.9"/>
<text x="18.1" y="185.6" font-size="9.6" fill="#fff" style="stroke:#fff;stroke-width:0.3px" textLength="58.8" lengthAdjust="spacingAndGlyphs">Sciatic nerve</text>
<text x="19.5" y="279.4" font-size="9.6" fill="#fff" style="stroke:#fff;stroke-width:0.3px" textLength="52.8" lengthAdjust="spacingAndGlyphs">Stretchable</text>
<text x="19.5" y="290.6" font-size="9.6" fill="#fff" style="stroke:#fff;stroke-width:0.3px" textLength="65" lengthAdjust="spacingAndGlyphs">cuff electrode</text>
<rect x="110.6" y="289.8" width="24.4" height="4.2" fill="#fff"/>
</svg></body></html>
